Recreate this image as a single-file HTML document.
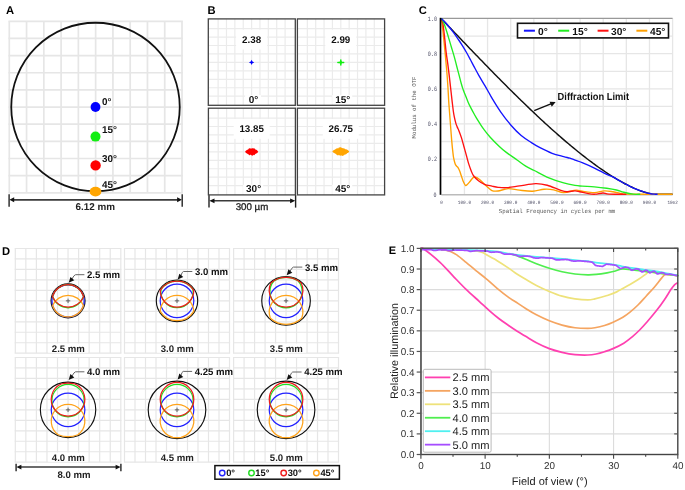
<!DOCTYPE html>
<html><head><meta charset="utf-8"><title>Figure</title>
<style>html,body{margin:0;padding:0;background:#fff;}body{width:685px;height:490px;overflow:hidden;font-family:"Liberation Sans",sans-serif;}svg{display:block;will-change:transform;}</style>
</head><body>
<svg width="685" height="490" viewBox="0 0 685 490" text-rendering="geometricPrecision">
<rect width="685" height="490" fill="#fff"/>
<text x="6" y="13.8" font-size="11.2" font-weight="bold" text-anchor="start" fill="#000" font-family="'Liberation Sans', sans-serif" >A</text>
<line x1="9.3" y1="21.3" x2="9.3" y2="192.8" stroke="#e6e6e6" stroke-width="1.7" />
<line x1="8.45" y1="21.3" x2="182.85" y2="21.3" stroke="#e6e6e6" stroke-width="1.7" />
<line x1="26.57" y1="21.3" x2="26.57" y2="192.8" stroke="#e6e6e6" stroke-width="1.7" />
<line x1="8.45" y1="38.45" x2="182.85" y2="38.45" stroke="#e6e6e6" stroke-width="1.7" />
<line x1="43.84" y1="21.3" x2="43.84" y2="192.8" stroke="#e6e6e6" stroke-width="1.7" />
<line x1="8.45" y1="55.6" x2="182.85" y2="55.6" stroke="#e6e6e6" stroke-width="1.7" />
<line x1="61.11" y1="21.3" x2="61.11" y2="192.8" stroke="#e6e6e6" stroke-width="1.7" />
<line x1="8.45" y1="72.75" x2="182.85" y2="72.75" stroke="#e6e6e6" stroke-width="1.7" />
<line x1="78.38" y1="21.3" x2="78.38" y2="192.8" stroke="#e6e6e6" stroke-width="1.7" />
<line x1="8.45" y1="89.9" x2="182.85" y2="89.9" stroke="#e6e6e6" stroke-width="1.7" />
<line x1="95.65" y1="21.3" x2="95.65" y2="192.8" stroke="#e6e6e6" stroke-width="1.7" />
<line x1="8.45" y1="107.05" x2="182.85" y2="107.05" stroke="#e6e6e6" stroke-width="1.7" />
<line x1="112.92" y1="21.3" x2="112.92" y2="192.8" stroke="#e6e6e6" stroke-width="1.7" />
<line x1="8.45" y1="124.2" x2="182.85" y2="124.2" stroke="#e6e6e6" stroke-width="1.7" />
<line x1="130.19" y1="21.3" x2="130.19" y2="192.8" stroke="#e6e6e6" stroke-width="1.7" />
<line x1="8.45" y1="141.35" x2="182.85" y2="141.35" stroke="#e6e6e6" stroke-width="1.7" />
<line x1="147.46" y1="21.3" x2="147.46" y2="192.8" stroke="#e6e6e6" stroke-width="1.7" />
<line x1="8.45" y1="158.5" x2="182.85" y2="158.5" stroke="#e6e6e6" stroke-width="1.7" />
<line x1="164.73" y1="21.3" x2="164.73" y2="192.8" stroke="#e6e6e6" stroke-width="1.7" />
<line x1="8.45" y1="175.65" x2="182.85" y2="175.65" stroke="#e6e6e6" stroke-width="1.7" />
<line x1="182" y1="21.3" x2="182" y2="192.8" stroke="#e6e6e6" stroke-width="1.7" />
<line x1="8.45" y1="192.8" x2="182.85" y2="192.8" stroke="#e6e6e6" stroke-width="1.7" />
<circle cx="95.5" cy="107.0" r="84.25" fill="none" stroke="#111" stroke-width="1.8"/>
<circle cx="95.5" cy="107" r="4.9" fill="#0000ff"/>
<circle cx="95.5" cy="136.6" r="5" fill="#11ee11"/>
<circle cx="95.6" cy="165.4" r="5.2" fill="#ff0000"/>
<ellipse cx="95.5" cy="191.6" rx="5.9" ry="4.9" fill="#ffa500"/>
<text x="102" y="104.8" font-size="9.9" font-weight="bold" text-anchor="start" fill="#111" font-family="'Liberation Sans', sans-serif" >0°</text>
<text x="102" y="133.4" font-size="9.9" font-weight="bold" text-anchor="start" fill="#111" font-family="'Liberation Sans', sans-serif" >15°</text>
<text x="102" y="162" font-size="9.9" font-weight="bold" text-anchor="start" fill="#111" font-family="'Liberation Sans', sans-serif" >30°</text>
<text x="102" y="188.4" font-size="9.9" font-weight="bold" text-anchor="start" fill="#111" font-family="'Liberation Sans', sans-serif" >45°</text>
<line x1="13.4" y1="199.8" x2="177.9" y2="199.8" stroke="#3a3a3a" stroke-width="1.7" />
<path d="M9.4 199.8 L14.2 197.3 L14.2 202.3Z" fill="#111"/>
<path d="M181.9 199.8 L177.1 197.3 L177.1 202.3Z" fill="#111"/>
<line x1="9.1" y1="194.2" x2="9.1" y2="206.8" stroke="#222" stroke-width="1.4" />
<line x1="182.2" y1="194.2" x2="182.2" y2="206.8" stroke="#222" stroke-width="1.4" />
<text x="95.3" y="210" font-size="9.9" font-weight="bold" text-anchor="middle" fill="#222" font-family="'Liberation Sans', sans-serif" >6.12 mm</text>
<text x="207.4" y="13.5" font-size="11.2" font-weight="bold" text-anchor="start" fill="#000" font-family="'Liberation Sans', sans-serif" >B</text>
<line x1="218.12" y1="18.9" x2="218.12" y2="105.3" stroke="#ebebeb" stroke-width="1.2" />
<line x1="208.3" y1="28.6" x2="295.3" y2="28.6" stroke="#ebebeb" stroke-width="1.2" />
<line x1="226.49" y1="18.9" x2="226.49" y2="105.3" stroke="#ebebeb" stroke-width="1.2" />
<line x1="208.3" y1="37.05" x2="295.3" y2="37.05" stroke="#ebebeb" stroke-width="1.2" />
<line x1="234.86" y1="18.9" x2="234.86" y2="105.3" stroke="#ebebeb" stroke-width="1.2" />
<line x1="208.3" y1="45.5" x2="295.3" y2="45.5" stroke="#ebebeb" stroke-width="1.2" />
<line x1="243.23" y1="18.9" x2="243.23" y2="105.3" stroke="#ebebeb" stroke-width="1.2" />
<line x1="208.3" y1="53.95" x2="295.3" y2="53.95" stroke="#ebebeb" stroke-width="1.2" />
<line x1="251.6" y1="18.9" x2="251.6" y2="105.3" stroke="#ebebeb" stroke-width="1.2" />
<line x1="208.3" y1="62.4" x2="295.3" y2="62.4" stroke="#ebebeb" stroke-width="1.2" />
<line x1="259.97" y1="18.9" x2="259.97" y2="105.3" stroke="#ebebeb" stroke-width="1.2" />
<line x1="208.3" y1="70.85" x2="295.3" y2="70.85" stroke="#ebebeb" stroke-width="1.2" />
<line x1="268.34" y1="18.9" x2="268.34" y2="105.3" stroke="#ebebeb" stroke-width="1.2" />
<line x1="208.3" y1="79.3" x2="295.3" y2="79.3" stroke="#ebebeb" stroke-width="1.2" />
<line x1="276.71" y1="18.9" x2="276.71" y2="105.3" stroke="#ebebeb" stroke-width="1.2" />
<line x1="208.3" y1="87.75" x2="295.3" y2="87.75" stroke="#ebebeb" stroke-width="1.2" />
<line x1="285.08" y1="18.9" x2="285.08" y2="105.3" stroke="#ebebeb" stroke-width="1.2" />
<line x1="208.3" y1="96.2" x2="295.3" y2="96.2" stroke="#ebebeb" stroke-width="1.2" />
<rect x="236.1" y="29.7" width="31" height="19.8" fill="#fff"/>
<rect x="245.1" y="95.1" width="16" height="9.5" fill="#fff"/>
<text x="251.6" y="43" font-size="9.8" font-weight="bold" text-anchor="middle" fill="#111" font-family="'Liberation Sans', sans-serif" >2.38</text>
<text x="253.5" y="102.8" font-size="10" font-weight="bold" text-anchor="middle" fill="#111" font-family="'Liberation Sans', sans-serif" >0°</text>
<rect x="208.3" y="18.9" width="87" height="86.4" fill="none" stroke="#444" stroke-width="1.3"/>
<path d="M248.9 62.4 Q251.25 62.05 251.6 59.7 Q251.95 62.05 254.3 62.4 Q251.95 62.75 251.6 65.1 Q251.25 62.75 248.9 62.4Z" fill="#0000ff"/>
<line x1="307.32" y1="18.9" x2="307.32" y2="105.3" stroke="#ebebeb" stroke-width="1.2" />
<line x1="297.4" y1="28.6" x2="384.6" y2="28.6" stroke="#ebebeb" stroke-width="1.2" />
<line x1="315.69" y1="18.9" x2="315.69" y2="105.3" stroke="#ebebeb" stroke-width="1.2" />
<line x1="297.4" y1="37.05" x2="384.6" y2="37.05" stroke="#ebebeb" stroke-width="1.2" />
<line x1="324.06" y1="18.9" x2="324.06" y2="105.3" stroke="#ebebeb" stroke-width="1.2" />
<line x1="297.4" y1="45.5" x2="384.6" y2="45.5" stroke="#ebebeb" stroke-width="1.2" />
<line x1="332.43" y1="18.9" x2="332.43" y2="105.3" stroke="#ebebeb" stroke-width="1.2" />
<line x1="297.4" y1="53.95" x2="384.6" y2="53.95" stroke="#ebebeb" stroke-width="1.2" />
<line x1="340.8" y1="18.9" x2="340.8" y2="105.3" stroke="#ebebeb" stroke-width="1.2" />
<line x1="297.4" y1="62.4" x2="384.6" y2="62.4" stroke="#ebebeb" stroke-width="1.2" />
<line x1="349.17" y1="18.9" x2="349.17" y2="105.3" stroke="#ebebeb" stroke-width="1.2" />
<line x1="297.4" y1="70.85" x2="384.6" y2="70.85" stroke="#ebebeb" stroke-width="1.2" />
<line x1="357.54" y1="18.9" x2="357.54" y2="105.3" stroke="#ebebeb" stroke-width="1.2" />
<line x1="297.4" y1="79.3" x2="384.6" y2="79.3" stroke="#ebebeb" stroke-width="1.2" />
<line x1="365.91" y1="18.9" x2="365.91" y2="105.3" stroke="#ebebeb" stroke-width="1.2" />
<line x1="297.4" y1="87.75" x2="384.6" y2="87.75" stroke="#ebebeb" stroke-width="1.2" />
<line x1="374.28" y1="18.9" x2="374.28" y2="105.3" stroke="#ebebeb" stroke-width="1.2" />
<line x1="297.4" y1="96.2" x2="384.6" y2="96.2" stroke="#ebebeb" stroke-width="1.2" />
<rect x="325.3" y="29.7" width="31" height="19.8" fill="#fff"/>
<rect x="332.3" y="95.1" width="20" height="9.5" fill="#fff"/>
<text x="340.8" y="43" font-size="9.8" font-weight="bold" text-anchor="middle" fill="#111" font-family="'Liberation Sans', sans-serif" >2.99</text>
<text x="342.7" y="102.8" font-size="10" font-weight="bold" text-anchor="middle" fill="#111" font-family="'Liberation Sans', sans-serif" >15°</text>
<rect x="297.4" y="18.9" width="87.2" height="86.4" fill="none" stroke="#444" stroke-width="1.3"/>
<g stroke="#11ee11" stroke-linecap="round" stroke-width="1.5"><line x1="337.9" y1="62.4" x2="343.7" y2="62.4"/><line x1="340.8" y1="60" x2="340.8" y2="65"/></g><circle cx="340.8" cy="62.4" r="1.3" fill="#11ee11"/>
<line x1="218.22" y1="108.2" x2="218.22" y2="194.9" stroke="#ebebeb" stroke-width="1.2" />
<line x1="208.4" y1="118.05" x2="295.4" y2="118.05" stroke="#ebebeb" stroke-width="1.2" />
<line x1="226.59" y1="108.2" x2="226.59" y2="194.9" stroke="#ebebeb" stroke-width="1.2" />
<line x1="208.4" y1="126.5" x2="295.4" y2="126.5" stroke="#ebebeb" stroke-width="1.2" />
<line x1="234.96" y1="108.2" x2="234.96" y2="194.9" stroke="#ebebeb" stroke-width="1.2" />
<line x1="208.4" y1="134.95" x2="295.4" y2="134.95" stroke="#ebebeb" stroke-width="1.2" />
<line x1="243.33" y1="108.2" x2="243.33" y2="194.9" stroke="#ebebeb" stroke-width="1.2" />
<line x1="208.4" y1="143.4" x2="295.4" y2="143.4" stroke="#ebebeb" stroke-width="1.2" />
<line x1="251.7" y1="108.2" x2="251.7" y2="194.9" stroke="#ebebeb" stroke-width="1.2" />
<line x1="208.4" y1="151.85" x2="295.4" y2="151.85" stroke="#ebebeb" stroke-width="1.2" />
<line x1="260.07" y1="108.2" x2="260.07" y2="194.9" stroke="#ebebeb" stroke-width="1.2" />
<line x1="208.4" y1="160.3" x2="295.4" y2="160.3" stroke="#ebebeb" stroke-width="1.2" />
<line x1="268.44" y1="108.2" x2="268.44" y2="194.9" stroke="#ebebeb" stroke-width="1.2" />
<line x1="208.4" y1="168.75" x2="295.4" y2="168.75" stroke="#ebebeb" stroke-width="1.2" />
<line x1="276.81" y1="108.2" x2="276.81" y2="194.9" stroke="#ebebeb" stroke-width="1.2" />
<line x1="208.4" y1="177.2" x2="295.4" y2="177.2" stroke="#ebebeb" stroke-width="1.2" />
<line x1="285.18" y1="108.2" x2="285.18" y2="194.9" stroke="#ebebeb" stroke-width="1.2" />
<line x1="208.4" y1="185.65" x2="295.4" y2="185.65" stroke="#ebebeb" stroke-width="1.2" />
<rect x="233.7" y="119" width="36" height="19.8" fill="#fff"/>
<rect x="243.2" y="184.7" width="20" height="9.5" fill="#fff"/>
<text x="251.7" y="132.3" font-size="9.8" font-weight="bold" text-anchor="middle" fill="#111" font-family="'Liberation Sans', sans-serif" >13.85</text>
<text x="253.6" y="192.4" font-size="10" font-weight="bold" text-anchor="middle" fill="#111" font-family="'Liberation Sans', sans-serif" >30°</text>
<rect x="208.4" y="108.2" width="87" height="86.7" fill="none" stroke="#444" stroke-width="1.3"/>
<path d="M245.1 151.75 L245.61 151.03 L246.12 150.62 L246.62 150.35 L247.13 149.75 L247.64 149.78 L248.15 149.52 L248.65 148.76 L249.16 148.24 L249.67 148.34 L250.18 148.69 L250.68 148.16 L251.19 148.45 L251.7 148.6 L252.21 148.17 L252.72 148.17 L253.22 148.32 L253.73 148.53 L254.24 148.22 L254.75 148.63 L255.25 149.34 L255.76 149.64 L256.27 149.67 L256.78 150.04 L257.28 150.47 L257.79 151.21 L258.3 151.75 L258.3 151.75 L257.79 152.33 L257.28 152.99 L256.78 153.24 L256.27 153.61 L255.76 153.71 L255.25 154.09 L254.75 154.76 L254.24 155.28 L253.73 154.79 L253.22 155.35 L252.72 155.46 L252.21 155.78 L251.7 155.39 L251.19 155.1 L250.68 154.82 L250.18 154.66 L249.67 155.13 L249.16 155.25 L248.65 154.18 L248.15 154.55 L247.64 153.87 L247.13 153.85 L246.62 153.3 L246.12 152.9 L245.61 152.38 L245.1 151.75Z" fill="#ff0000"/>
<line x1="307.32" y1="108.2" x2="307.32" y2="194.9" stroke="#ebebeb" stroke-width="1.2" />
<line x1="297.4" y1="118.05" x2="384.6" y2="118.05" stroke="#ebebeb" stroke-width="1.2" />
<line x1="315.69" y1="108.2" x2="315.69" y2="194.9" stroke="#ebebeb" stroke-width="1.2" />
<line x1="297.4" y1="126.5" x2="384.6" y2="126.5" stroke="#ebebeb" stroke-width="1.2" />
<line x1="324.06" y1="108.2" x2="324.06" y2="194.9" stroke="#ebebeb" stroke-width="1.2" />
<line x1="297.4" y1="134.95" x2="384.6" y2="134.95" stroke="#ebebeb" stroke-width="1.2" />
<line x1="332.43" y1="108.2" x2="332.43" y2="194.9" stroke="#ebebeb" stroke-width="1.2" />
<line x1="297.4" y1="143.4" x2="384.6" y2="143.4" stroke="#ebebeb" stroke-width="1.2" />
<line x1="340.8" y1="108.2" x2="340.8" y2="194.9" stroke="#ebebeb" stroke-width="1.2" />
<line x1="297.4" y1="151.85" x2="384.6" y2="151.85" stroke="#ebebeb" stroke-width="1.2" />
<line x1="349.17" y1="108.2" x2="349.17" y2="194.9" stroke="#ebebeb" stroke-width="1.2" />
<line x1="297.4" y1="160.3" x2="384.6" y2="160.3" stroke="#ebebeb" stroke-width="1.2" />
<line x1="357.54" y1="108.2" x2="357.54" y2="194.9" stroke="#ebebeb" stroke-width="1.2" />
<line x1="297.4" y1="168.75" x2="384.6" y2="168.75" stroke="#ebebeb" stroke-width="1.2" />
<line x1="365.91" y1="108.2" x2="365.91" y2="194.9" stroke="#ebebeb" stroke-width="1.2" />
<line x1="297.4" y1="177.2" x2="384.6" y2="177.2" stroke="#ebebeb" stroke-width="1.2" />
<line x1="374.28" y1="108.2" x2="374.28" y2="194.9" stroke="#ebebeb" stroke-width="1.2" />
<line x1="297.4" y1="185.65" x2="384.6" y2="185.65" stroke="#ebebeb" stroke-width="1.2" />
<rect x="322.8" y="119" width="36" height="19.8" fill="#fff"/>
<rect x="332.3" y="184.7" width="20" height="9.5" fill="#fff"/>
<text x="340.8" y="132.3" font-size="9.8" font-weight="bold" text-anchor="middle" fill="#111" font-family="'Liberation Sans', sans-serif" >26.75</text>
<text x="342.7" y="192.4" font-size="10" font-weight="bold" text-anchor="middle" fill="#111" font-family="'Liberation Sans', sans-serif" >45°</text>
<rect x="297.4" y="108.2" width="87.2" height="86.7" fill="none" stroke="#444" stroke-width="1.3"/>
<path d="M332.3 151.55 L332.95 150.76 L333.61 150.24 L334.26 149.8 L334.92 149.78 L335.57 148.93 L336.22 148.79 L336.88 148.18 L337.53 148.35 L338.18 148.51 L338.84 147.43 L339.49 147.47 L340.15 147.06 L340.8 147.52 L341.45 147.45 L342.11 148.21 L342.76 147.88 L343.42 148.42 L344.07 147.93 L344.72 148.96 L345.38 149.17 L346.03 149.22 L346.68 149.56 L347.34 149.69 L347.99 150.32 L348.65 150.85 L349.3 151.55 L349.3 151.55 L348.65 152.21 L347.99 152.93 L347.34 153.08 L346.68 153.8 L346.03 154.33 L345.38 154.53 L344.72 154.48 L344.07 155.28 L343.42 155.41 L342.76 155.81 L342.11 155.91 L341.45 155.25 L340.8 156 L340.15 155.13 L339.49 155.46 L338.84 154.85 L338.18 155.41 L337.53 155.36 L336.88 155.02 L336.22 154.15 L335.57 153.8 L334.92 153.55 L334.26 153.02 L333.61 152.84 L332.95 152.19 L332.3 151.55Z" fill="#ffa500"/>
<line x1="213.7" y1="200.8" x2="290.9" y2="200.8" stroke="#3a3a3a" stroke-width="1.5" />
<path d="M209.3 200.8 L214.5 198.4 L214.5 203.2Z" fill="#111"/>
<path d="M295.3 200.8 L290.1 198.4 L290.1 203.2Z" fill="#111"/>
<line x1="209" y1="195.2" x2="209" y2="207.6" stroke="#222" stroke-width="1.4" />
<line x1="295.6" y1="195.2" x2="295.6" y2="207.6" stroke="#222" stroke-width="1.4" />
<text x="252" y="210.2" font-size="9.7" font-weight="normal" text-anchor="middle" fill="#222" font-family="'Liberation Sans', sans-serif" stroke="#222" stroke-width="0.3">300 µm</text>
<text x="418.8" y="13.5" font-size="11.2" font-weight="bold" text-anchor="start" fill="#000" font-family="'Liberation Sans', sans-serif" >C</text>
<line x1="464.43" y1="18.3" x2="464.43" y2="194.2" stroke="#e6e6e6" stroke-width="1.3" />
<line x1="487.56" y1="18.3" x2="487.56" y2="194.2" stroke="#e6e6e6" stroke-width="1.3" />
<line x1="510.69" y1="18.3" x2="510.69" y2="194.2" stroke="#e6e6e6" stroke-width="1.3" />
<line x1="533.82" y1="18.3" x2="533.82" y2="194.2" stroke="#e6e6e6" stroke-width="1.3" />
<line x1="556.95" y1="18.3" x2="556.95" y2="194.2" stroke="#e6e6e6" stroke-width="1.3" />
<line x1="580.08" y1="18.3" x2="580.08" y2="194.2" stroke="#e6e6e6" stroke-width="1.3" />
<line x1="603.21" y1="18.3" x2="603.21" y2="194.2" stroke="#e6e6e6" stroke-width="1.3" />
<line x1="626.34" y1="18.3" x2="626.34" y2="194.2" stroke="#e6e6e6" stroke-width="1.3" />
<line x1="649.47" y1="18.3" x2="649.47" y2="194.2" stroke="#e6e6e6" stroke-width="1.3" />
<line x1="672.6" y1="18.3" x2="672.6" y2="194.2" stroke="#e6e6e6" stroke-width="1.3" />
<line x1="441.3" y1="176.64" x2="672.6" y2="176.64" stroke="#e6e6e6" stroke-width="1.3" />
<line x1="441.3" y1="159.08" x2="672.6" y2="159.08" stroke="#e6e6e6" stroke-width="1.3" />
<line x1="441.3" y1="141.52" x2="672.6" y2="141.52" stroke="#e6e6e6" stroke-width="1.3" />
<line x1="441.3" y1="123.96" x2="672.6" y2="123.96" stroke="#e6e6e6" stroke-width="1.3" />
<line x1="441.3" y1="106.4" x2="672.6" y2="106.4" stroke="#e6e6e6" stroke-width="1.3" />
<line x1="441.3" y1="88.84" x2="672.6" y2="88.84" stroke="#e6e6e6" stroke-width="1.3" />
<line x1="441.3" y1="71.28" x2="672.6" y2="71.28" stroke="#e6e6e6" stroke-width="1.3" />
<line x1="441.3" y1="53.72" x2="672.6" y2="53.72" stroke="#e6e6e6" stroke-width="1.3" />
<line x1="441.3" y1="36.16" x2="672.6" y2="36.16" stroke="#e6e6e6" stroke-width="1.3" />
<line x1="441.3" y1="18.4" x2="672.6" y2="18.4" stroke="#999" stroke-width="1.1" />
<line x1="441.4" y1="194.8" x2="672.6" y2="194.8" stroke="#bbb" stroke-width="1.5" />
<path d="M441.3 18.6 C441.69 19.01 442.84 20.22 443.61 21.03 C444.38 21.84 445.15 22.65 445.93 23.46 C446.7 24.27 447.47 25.08 448.24 25.89 C449.01 26.7 449.78 27.51 450.55 28.32 C451.32 29.13 452.09 29.94 452.87 30.75 C453.64 31.55 454.41 32.36 455.18 33.17 C455.95 33.98 456.72 34.79 457.49 35.6 C458.26 36.4 459.03 37.21 459.8 38.02 C460.58 38.82 461.35 39.63 462.12 40.44 C462.89 41.24 463.66 42.05 464.43 42.85 C465.2 43.66 465.97 44.46 466.74 45.27 C467.51 46.07 468.29 46.88 469.06 47.68 C469.83 48.48 470.6 49.29 471.37 50.09 C472.14 50.89 472.91 51.69 473.68 52.49 C474.45 53.29 475.22 54.09 476 54.89 C476.77 55.69 477.54 56.49 478.31 57.29 C479.08 58.08 479.85 58.88 480.62 59.68 C481.39 60.47 482.16 61.27 482.93 62.06 C483.71 62.86 484.48 63.65 485.25 64.44 C486.02 65.24 486.79 66.03 487.56 66.82 C488.33 67.61 489.1 68.4 489.87 69.19 C490.64 69.98 491.42 70.76 492.19 71.55 C492.96 72.34 493.73 73.12 494.5 73.91 C495.27 74.69 496.04 75.47 496.81 76.26 C497.58 77.04 498.35 77.82 499.12 78.6 C499.9 79.38 500.67 80.16 501.44 80.93 C502.21 81.71 502.98 82.49 503.75 83.26 C504.52 84.04 505.29 84.81 506.06 85.58 C506.84 86.35 507.61 87.12 508.38 87.89 C509.15 88.66 509.92 89.43 510.69 90.19 C511.46 90.96 512.23 91.72 513 92.49 C513.77 93.25 514.55 94.01 515.32 94.77 C516.09 95.53 516.86 96.29 517.63 97.04 C518.4 97.8 519.17 98.55 519.94 99.31 C520.71 100.06 521.48 100.81 522.25 101.56 C523.03 102.31 523.8 103.06 524.57 103.8 C525.34 104.55 526.11 105.29 526.88 106.03 C527.65 106.77 528.42 107.51 529.19 108.25 C529.96 108.99 530.74 109.72 531.51 110.46 C532.28 111.19 533.05 111.92 533.82 112.65 C534.59 113.38 535.36 114.11 536.13 114.84 C536.9 115.56 537.68 116.28 538.45 117 C539.22 117.72 539.99 118.44 540.76 119.16 C541.53 119.88 542.3 120.59 543.07 121.3 C543.84 122.01 544.61 122.72 545.38 123.43 C546.16 124.13 546.93 124.84 547.7 125.54 C548.47 126.24 549.24 126.94 550.01 127.64 C550.78 128.33 551.55 129.03 552.32 129.72 C553.1 130.41 553.87 131.1 554.64 131.78 C555.41 132.47 556.18 133.15 556.95 133.83 C557.72 134.51 558.49 135.19 559.26 135.86 C560.03 136.54 560.81 137.21 561.58 137.88 C562.35 138.55 563.12 139.21 563.89 139.87 C564.66 140.53 565.43 141.19 566.2 141.85 C566.97 142.51 567.74 143.16 568.51 143.81 C569.29 144.46 570.06 145.1 570.83 145.75 C571.6 146.39 572.37 147.03 573.14 147.66 C573.91 148.3 574.68 148.93 575.45 149.56 C576.22 150.19 577 150.81 577.77 151.44 C578.54 152.06 579.31 152.68 580.08 153.29 C580.85 153.9 581.62 154.51 582.39 155.12 C583.16 155.73 583.94 156.33 584.71 156.93 C585.48 157.53 586.25 158.12 587.02 158.71 C587.79 159.3 588.56 159.89 589.33 160.47 C590.1 161.05 590.87 161.63 591.64 162.2 C592.42 162.78 593.19 163.34 593.96 163.91 C594.73 164.47 595.5 165.03 596.27 165.59 C597.04 166.14 597.81 166.69 598.58 167.24 C599.36 167.79 600.13 168.33 600.9 168.86 C601.67 169.4 602.44 169.93 603.21 170.45 C603.98 170.98 604.75 171.5 605.52 172.02 C606.29 172.53 607.07 173.04 607.84 173.54 C608.61 174.05 609.38 174.55 610.15 175.04 C610.92 175.53 611.69 176.02 612.46 176.5 C613.23 176.98 614 177.46 614.77 177.93 C615.55 178.4 616.32 178.86 617.09 179.32 C617.86 179.77 618.63 180.22 619.4 180.67 C620.17 181.11 620.94 181.55 621.71 181.98 C622.49 182.41 623.26 182.83 624.03 183.24 C624.8 183.66 625.57 184.07 626.34 184.47 C627.11 184.87 627.88 185.26 628.65 185.64 C629.42 186.03 630.2 186.4 630.97 186.77 C631.74 187.14 632.51 187.5 633.28 187.85 C634.05 188.2 634.82 188.54 635.59 188.87 C636.36 189.2 637.13 189.52 637.9 189.83 C638.68 190.14 639.45 190.44 640.22 190.72 C640.99 191.01 641.76 191.29 642.53 191.55 C643.3 191.81 644.07 192.07 644.84 192.3 C645.62 192.54 646.39 192.76 647.16 192.96 C647.93 193.17 648.7 193.36 649.47 193.53 C650.24 193.69 651.01 193.85 651.78 193.96 C652.55 194.07 650.63 194.16 654.1 194.2 C657.57 194.24 669.52 194.2 672.6 194.2" fill="none" stroke="#111" stroke-width="1.45" stroke-linejoin="round"/>
<path d="M441.3 18.6 C441.42 19.33 441.76 21.23 441.99 22.99 C442.23 24.75 442.42 26.74 442.69 29.14 C442.96 31.54 443.21 33.47 443.61 37.39 C444.01 41.31 444.68 48.25 445.09 52.67 C445.51 57.09 445.78 60.13 446.11 63.9 C446.45 67.68 446.79 71.22 447.11 75.32 C447.42 79.42 447.74 84.19 448.01 88.49 C448.27 92.79 448.52 98.06 448.7 101.13 C448.89 104.2 448.92 104.23 449.12 106.93 C449.32 109.62 449.64 113.86 449.9 117.29 C450.17 120.71 450.39 123.58 450.69 127.47 C450.99 131.36 451.37 136.69 451.71 140.64 C452.05 144.59 452.42 148.25 452.75 151.18 C453.08 154.1 453.28 156.12 453.67 158.2 C454.07 160.28 454.63 162.33 455.11 163.65 C455.59 164.96 456.05 165.4 456.57 166.1 C457.08 166.81 457.65 166.98 458.18 167.86 C458.72 168.74 459.28 170.05 459.8 171.37 C460.32 172.69 460.73 174.06 461.31 175.76 C461.89 177.46 462.58 179.95 463.27 181.56 C463.97 183.17 464.84 184.92 465.49 185.42 C466.15 185.92 466.5 185.16 467.21 184.54 C467.91 183.93 468.86 182.79 469.75 181.73 C470.64 180.68 471.7 179.01 472.53 178.22 C473.35 177.43 473.52 176.79 474.7 176.99 C475.88 177.2 477.75 178.02 479.6 179.45 C481.45 180.88 483.75 183.75 485.8 185.6 C487.85 187.44 489.87 189.61 491.91 190.51 C493.94 191.42 495.31 191.36 498.01 191.04 C500.72 190.72 504.57 188.73 508.15 188.58 C511.72 188.43 515.39 189.72 519.48 190.16 C523.57 190.6 528.58 191.36 532.66 191.21 C536.75 191.07 540.49 189.52 544 189.28 C547.51 189.05 550.44 189.25 553.71 189.81 C556.99 190.37 559.96 192.56 563.66 192.62 C567.36 192.68 572.83 190.4 575.92 190.16 C579 189.93 579.08 190.81 582.16 191.21 C585.25 191.62 590.72 192.68 594.42 192.62 C598.12 192.56 601.28 191.01 604.37 190.86 C607.45 190.72 610.03 191.3 612.92 191.74 C615.82 192.18 619.48 193.09 621.71 193.5 C623.95 193.91 617.86 194.08 626.34 194.2 C634.82 194.32 664.89 194.2 672.6 194.2" fill="none" stroke="#ffa000" stroke-width="1.35" stroke-linejoin="round"/>
<path d="M441.3 18.6 C441.45 19.04 441.92 20.21 442.23 21.23 C442.53 22.26 442.71 22.05 443.1 24.75 C443.5 27.44 444.11 32.85 444.61 37.39 C445.11 41.93 445.59 47.63 446.11 51.96 C446.63 56.3 447.19 59.49 447.71 63.38 C448.22 67.27 448.71 71.13 449.21 75.32 C449.71 79.5 450.19 84.07 450.69 88.49 C451.19 92.91 451.76 98.09 452.19 101.83 C452.63 105.58 452.96 108.51 453.3 110.97 C453.65 113.42 453.84 114.57 454.25 116.58 C454.67 118.6 455.3 121.33 455.8 123.08 C456.3 124.84 456.74 125.86 457.26 127.12 C457.78 128.38 458.21 128.88 458.9 130.63 C459.59 132.39 460.55 134.96 461.4 137.66 C462.25 140.35 463.14 143.74 463.99 146.79 C464.84 149.83 465.74 153.11 466.51 155.92 C467.29 158.73 467.87 161.19 468.64 163.65 C469.41 166.1 470.32 168.65 471.14 170.67 C471.95 172.69 472.33 174.09 473.54 175.76 C474.76 177.43 476.61 179.24 478.45 180.68 C480.28 182.11 482.3 183.46 484.55 184.37 C486.8 185.27 489.7 185.62 491.95 186.12 C494.21 186.62 495.69 187.09 498.08 187.35 C500.47 187.61 502.73 187.94 506.3 187.7 C509.86 187.47 514.58 186.62 519.48 185.95 C524.38 185.27 531.04 183.78 535.67 183.66 C540.3 183.55 543.15 184.16 547.24 185.24 C551.32 186.33 556.91 189.08 560.19 190.16 C563.46 191.24 564.43 191.62 566.9 191.74 C569.36 191.86 572.83 190.86 574.99 190.86 C577.15 190.86 577.61 191.27 579.85 191.74 C582.08 192.21 585.86 193.26 588.41 193.67 C590.95 194.08 592.69 194.32 595.11 194.2 C597.54 194.08 600.67 192.97 602.98 192.97 C605.29 192.97 605.1 194 608.99 194.2 C612.89 194.4 623.45 194.2 626.34 194.2" fill="none" stroke="#ff1111" stroke-width="1.35" stroke-linejoin="round"/>
<path d="M441.3 18.6 C441.52 18.89 441.96 19.04 442.6 20.36 C443.23 21.67 444.16 23.84 445.09 26.5 C446.03 29.17 447.18 33 448.19 36.34 C449.21 39.67 450.18 43.1 451.2 46.52 C452.22 49.94 453.37 53.54 454.3 56.88 C455.23 60.22 455.95 63.29 456.8 66.54 C457.65 69.79 458.68 73.59 459.41 76.37 C460.14 79.15 460.63 81.17 461.19 83.22 C461.76 85.27 462.27 87.05 462.81 88.66 C463.35 90.27 463.83 91.36 464.43 92.88 C465.03 94.4 465.78 96.24 466.4 97.8 C467.01 99.35 467.51 100.75 468.13 102.19 C468.75 103.62 469.35 104.91 470.1 106.4 C470.84 107.89 471.58 109.27 472.59 111.14 C473.61 113.01 474.92 115.47 476.2 117.64 C477.49 119.8 479.01 122.17 480.3 124.14 C481.58 126.1 482.29 127.27 483.91 129.4 C485.52 131.54 487.51 134.2 489.99 136.95 C492.47 139.71 496.08 143.33 498.8 145.91 C501.52 148.49 503.25 150.07 506.3 152.41 C509.34 154.75 513.86 157.68 517.1 159.96 C520.34 162.24 522.86 164.35 525.72 166.1 C528.59 167.86 530.43 168.53 534.28 170.49 C538.14 172.45 543.96 175.79 548.85 177.87 C553.75 179.95 559.3 181.7 563.66 182.96 C568.01 184.22 571.91 184.89 574.99 185.42 C578.08 185.95 578.92 185.89 582.16 186.12 C585.4 186.36 590.33 186.47 594.42 186.82 C598.51 187.18 603.02 187.7 606.68 188.23 C610.34 188.76 613.54 189.31 616.39 189.99 C619.25 190.66 620.98 191.57 623.8 192.27 C626.61 192.97 630.54 193.88 633.28 194.2 C636.02 194.52 639.06 194.2 640.22 194.2" fill="none" stroke="#22ee22" stroke-width="1.35" stroke-linejoin="round"/>
<path d="M441.3 18.6 C442.1 19.36 444.63 21.56 446.11 23.17 C447.6 24.78 448.84 26.53 450.21 28.26 C451.57 29.98 452.93 31.65 454.3 33.53 C455.66 35.4 457.04 37.48 458.39 39.5 C459.74 41.52 461.04 43.48 462.39 45.64 C463.75 47.81 465.14 50.09 466.51 52.49 C467.88 54.89 469.33 57.64 470.61 60.04 C471.89 62.44 472.83 64.34 474.19 66.89 C475.56 69.44 477.01 72.19 478.79 75.32 C480.58 78.45 483.03 82.46 484.9 85.68 C486.77 88.9 488.69 92.35 489.99 94.63 C491.29 96.92 490.89 96.48 492.69 99.38 C494.5 102.27 497.74 107.72 500.79 112.02 C503.84 116.32 507.59 121.27 510.99 125.19 C514.39 129.11 517.79 132.65 521.19 135.55 C524.59 138.45 528.26 140.55 531.39 142.57 C534.53 144.59 536.55 145.88 540 147.67 C543.45 149.45 548.15 151.79 552.09 153.29 C556.04 154.78 560.69 155.8 563.66 156.62 C566.63 157.44 568.01 157.62 569.9 158.2 C571.79 158.79 572.95 159.4 574.99 160.13 C577.03 160.87 578.92 161.27 582.16 162.59 C585.4 163.91 590.33 166.07 594.42 168.04 C598.51 170 603.67 172.92 606.68 174.36 C609.69 175.79 610.73 175.81 612.46 176.64 C614.2 177.47 615.55 178.43 617.09 179.32 C618.63 180.21 620.17 181.12 621.71 181.98 C623.26 182.83 624.8 183.67 626.34 184.47 C627.88 185.27 629.42 186.04 630.97 186.77 C632.51 187.5 634.05 188.21 635.59 188.87 C637.13 189.52 638.68 190.15 640.22 190.72 C641.76 191.3 643.3 191.83 644.84 192.3 C646.39 192.77 647.93 193.21 649.47 193.53 C651.01 193.84 652.75 194.09 654.1 194.2 C655.45 194.31 656.99 194.2 657.57 194.2" fill="none" stroke="#1515ff" stroke-width="1.35" stroke-linejoin="round"/>
<line x1="440.5" y1="17.8" x2="440.5" y2="194.8" stroke="#000" stroke-width="1.7" />
<text x="427.8" y="21" font-size="6.6" fill="#4a4a62" font-family="'Liberation Mono', monospace" textLength="9.2" lengthAdjust="spacingAndGlyphs">1.0</text>
<text x="427.8" y="56.12" font-size="6.6" fill="#4a4a62" font-family="'Liberation Mono', monospace" textLength="9.2" lengthAdjust="spacingAndGlyphs">0.8</text>
<text x="427.8" y="91.24" font-size="6.6" fill="#4a4a62" font-family="'Liberation Mono', monospace" textLength="9.2" lengthAdjust="spacingAndGlyphs">0.6</text>
<text x="427.8" y="126.36" font-size="6.6" fill="#4a4a62" font-family="'Liberation Mono', monospace" textLength="9.2" lengthAdjust="spacingAndGlyphs">0.4</text>
<text x="427.8" y="161.48" font-size="6.6" fill="#4a4a62" font-family="'Liberation Mono', monospace" textLength="9.2" lengthAdjust="spacingAndGlyphs">0.2</text>
<text x="433.6" y="196.6" font-size="6.6" fill="#4a4a62" font-family="'Liberation Mono', monospace" textLength="3" lengthAdjust="spacingAndGlyphs">0</text>
<text x="440.2" y="204.3" font-size="5" fill="#4a4a62" font-family="'Liberation Mono', monospace" textLength="2.6" lengthAdjust="spacingAndGlyphs">0</text>
<text x="457.83" y="204.3" font-size="5" fill="#4a4a62" font-family="'Liberation Mono', monospace" textLength="13.2" lengthAdjust="spacingAndGlyphs">100.0</text>
<text x="480.96" y="204.3" font-size="5" fill="#4a4a62" font-family="'Liberation Mono', monospace" textLength="13.2" lengthAdjust="spacingAndGlyphs">200.0</text>
<text x="504.09" y="204.3" font-size="5" fill="#4a4a62" font-family="'Liberation Mono', monospace" textLength="13.2" lengthAdjust="spacingAndGlyphs">300.0</text>
<text x="527.22" y="204.3" font-size="5" fill="#4a4a62" font-family="'Liberation Mono', monospace" textLength="13.2" lengthAdjust="spacingAndGlyphs">400.0</text>
<text x="550.35" y="204.3" font-size="5" fill="#4a4a62" font-family="'Liberation Mono', monospace" textLength="13.2" lengthAdjust="spacingAndGlyphs">500.0</text>
<text x="573.48" y="204.3" font-size="5" fill="#4a4a62" font-family="'Liberation Mono', monospace" textLength="13.2" lengthAdjust="spacingAndGlyphs">600.0</text>
<text x="596.61" y="204.3" font-size="5" fill="#4a4a62" font-family="'Liberation Mono', monospace" textLength="13.2" lengthAdjust="spacingAndGlyphs">700.0</text>
<text x="619.74" y="204.3" font-size="5" fill="#4a4a62" font-family="'Liberation Mono', monospace" textLength="13.2" lengthAdjust="spacingAndGlyphs">800.0</text>
<text x="642.87" y="204.3" font-size="5" fill="#4a4a62" font-family="'Liberation Mono', monospace" textLength="13.2" lengthAdjust="spacingAndGlyphs">900.0</text>
<text x="667.4" y="204.3" font-size="5" fill="#4a4a62" font-family="'Liberation Mono', monospace" textLength="10.4" lengthAdjust="spacingAndGlyphs">10e2</text>
<text x="498.8" y="212.8" font-size="6" fill="#555" font-family="'Liberation Mono', monospace" textLength="116.5" lengthAdjust="spacingAndGlyphs">Spatial Frequency in cycles per mm</text>
<text transform="translate(415.6 107.5) rotate(-90)" x="0" y="0" text-anchor="middle" font-size="6" fill="#555" font-family="'Liberation Mono', monospace" textLength="62" lengthAdjust="spacingAndGlyphs">Modulus of the OTF</text>
<rect x="517.5" y="23.3" width="151" height="14.6" fill="#fff" stroke="#111" stroke-width="1.6"/>
<line x1="523.9" y1="30.7" x2="534.9" y2="30.7" stroke="#1515ff" stroke-width="2" />
<text x="538" y="34.5" font-size="10.2" font-weight="bold" text-anchor="start" fill="#111" font-family="'Liberation Sans', sans-serif" >0°</text>
<line x1="558.2" y1="30.7" x2="569.2" y2="30.7" stroke="#22ee22" stroke-width="2" />
<text x="572.3" y="34.5" font-size="10.2" font-weight="bold" text-anchor="start" fill="#111" font-family="'Liberation Sans', sans-serif" >15°</text>
<line x1="597.6" y1="30.7" x2="608.5" y2="30.7" stroke="#ff1111" stroke-width="2" />
<text x="611" y="34.5" font-size="10.2" font-weight="bold" text-anchor="start" fill="#111" font-family="'Liberation Sans', sans-serif" >30°</text>
<line x1="636.4" y1="30.7" x2="647.3" y2="30.7" stroke="#ffa000" stroke-width="2" />
<text x="650" y="34.5" font-size="10.2" font-weight="bold" text-anchor="start" fill="#111" font-family="'Liberation Sans', sans-serif" >45°</text>
<text x="557.6" y="100.1" font-size="10.3" font-weight="bold" text-anchor="start" fill="#111" font-family="'Liberation Sans', sans-serif" textLength="71.4" lengthAdjust="spacingAndGlyphs">Diffraction Limit</text>
<line x1="534.2" y1="110.7" x2="551.5" y2="103.7" stroke="#111" stroke-width="1.4" />
<path d="M555.6 102.1 L549.6 101.7 L551.8 106.8Z" fill="#111"/>
<text x="2" y="254.6" font-size="11.2" font-weight="bold" text-anchor="start" fill="#000" font-family="'Liberation Sans', sans-serif" >D</text>
<line x1="15.3" y1="248.5" x2="15.3" y2="353.2" stroke="#e6e6e6" stroke-width="1.2" />
<line x1="14.7" y1="248.5" x2="121.4" y2="248.5" stroke="#e6e6e6" stroke-width="1.2" />
<line x1="25.85" y1="248.5" x2="25.85" y2="353.2" stroke="#e6e6e6" stroke-width="1.2" />
<line x1="14.7" y1="258.97" x2="121.4" y2="258.97" stroke="#e6e6e6" stroke-width="1.2" />
<line x1="36.4" y1="248.5" x2="36.4" y2="353.2" stroke="#e6e6e6" stroke-width="1.2" />
<line x1="14.7" y1="269.44" x2="121.4" y2="269.44" stroke="#e6e6e6" stroke-width="1.2" />
<line x1="46.95" y1="248.5" x2="46.95" y2="353.2" stroke="#e6e6e6" stroke-width="1.2" />
<line x1="14.7" y1="279.91" x2="121.4" y2="279.91" stroke="#e6e6e6" stroke-width="1.2" />
<line x1="57.5" y1="248.5" x2="57.5" y2="353.2" stroke="#e6e6e6" stroke-width="1.2" />
<line x1="14.7" y1="290.38" x2="121.4" y2="290.38" stroke="#e6e6e6" stroke-width="1.2" />
<line x1="68.05" y1="248.5" x2="68.05" y2="353.2" stroke="#e6e6e6" stroke-width="1.2" />
<line x1="14.7" y1="300.85" x2="121.4" y2="300.85" stroke="#e6e6e6" stroke-width="1.2" />
<line x1="78.6" y1="248.5" x2="78.6" y2="353.2" stroke="#e6e6e6" stroke-width="1.2" />
<line x1="14.7" y1="311.32" x2="121.4" y2="311.32" stroke="#e6e6e6" stroke-width="1.2" />
<line x1="89.15" y1="248.5" x2="89.15" y2="353.2" stroke="#e6e6e6" stroke-width="1.2" />
<line x1="14.7" y1="321.79" x2="121.4" y2="321.79" stroke="#e6e6e6" stroke-width="1.2" />
<line x1="99.7" y1="248.5" x2="99.7" y2="353.2" stroke="#e6e6e6" stroke-width="1.2" />
<line x1="14.7" y1="332.26" x2="121.4" y2="332.26" stroke="#e6e6e6" stroke-width="1.2" />
<line x1="110.25" y1="248.5" x2="110.25" y2="353.2" stroke="#e6e6e6" stroke-width="1.2" />
<line x1="14.7" y1="342.73" x2="121.4" y2="342.73" stroke="#e6e6e6" stroke-width="1.2" />
<line x1="120.8" y1="248.5" x2="120.8" y2="353.2" stroke="#e6e6e6" stroke-width="1.2" />
<line x1="14.7" y1="353.2" x2="121.4" y2="353.2" stroke="#e6e6e6" stroke-width="1.2" />
<rect x="48.05" y="343.6" width="40" height="9" fill="#fff"/>
<text x="68.35" y="352" font-size="9.6" font-weight="bold" text-anchor="middle" fill="#222" font-family="'Liberation Sans', sans-serif" >2.5 mm</text>
<circle cx="68.05" cy="300.85" r="17" fill="none" stroke="#111" stroke-width="1.15"/>
<g fill="none" stroke-width="1.25">
<circle stroke="#2222ff" cx="68.05" cy="300.85" r="16.1"/>
<path stroke="#22dd22" d="M52.6 296.31 A16.15 16.15 0 0 0 83.5 296.31 A16.1 16.1 0 0 0 52.6 296.31Z"/>
<path stroke="#ffa31a" d="M52.63 305.48 A16.8 16.8 0 0 1 83.47 305.48 A16.1 16.1 0 0 1 52.63 305.48Z"/>
<path stroke="#ee1c1c" d="M52.51 296.64 A16.8 16.8 0 0 0 83.59 296.64 A16.1 16.1 0 0 0 52.51 296.64Z"/>
</g>
<line x1="65.85" y1="300.85" x2="70.25" y2="300.85" stroke="#555" stroke-width="0.9" />
<line x1="68.05" y1="298.65" x2="68.05" y2="303.05" stroke="#555" stroke-width="0.9" />
<path d="M84.4 274.7 L75.5 274.7 Q74.3 274.7 71.82 279.2" fill="none" stroke="#666" stroke-width="1.0"/>
<path d="M68.65 282.8 L70.4 276.88 L74.3 280.32Z" fill="#111"/>
<text x="87" y="278.1" font-size="9.6" font-weight="bold" text-anchor="start" fill="#111" font-family="'Liberation Sans', sans-serif" >2.5 mm</text>
<line x1="124.5" y1="248.5" x2="124.5" y2="353.2" stroke="#e6e6e6" stroke-width="1.2" />
<line x1="123.9" y1="248.5" x2="230.1" y2="248.5" stroke="#e6e6e6" stroke-width="1.2" />
<line x1="135" y1="248.5" x2="135" y2="353.2" stroke="#e6e6e6" stroke-width="1.2" />
<line x1="123.9" y1="258.97" x2="230.1" y2="258.97" stroke="#e6e6e6" stroke-width="1.2" />
<line x1="145.5" y1="248.5" x2="145.5" y2="353.2" stroke="#e6e6e6" stroke-width="1.2" />
<line x1="123.9" y1="269.44" x2="230.1" y2="269.44" stroke="#e6e6e6" stroke-width="1.2" />
<line x1="156" y1="248.5" x2="156" y2="353.2" stroke="#e6e6e6" stroke-width="1.2" />
<line x1="123.9" y1="279.91" x2="230.1" y2="279.91" stroke="#e6e6e6" stroke-width="1.2" />
<line x1="166.5" y1="248.5" x2="166.5" y2="353.2" stroke="#e6e6e6" stroke-width="1.2" />
<line x1="123.9" y1="290.38" x2="230.1" y2="290.38" stroke="#e6e6e6" stroke-width="1.2" />
<line x1="177" y1="248.5" x2="177" y2="353.2" stroke="#e6e6e6" stroke-width="1.2" />
<line x1="123.9" y1="300.85" x2="230.1" y2="300.85" stroke="#e6e6e6" stroke-width="1.2" />
<line x1="187.5" y1="248.5" x2="187.5" y2="353.2" stroke="#e6e6e6" stroke-width="1.2" />
<line x1="123.9" y1="311.32" x2="230.1" y2="311.32" stroke="#e6e6e6" stroke-width="1.2" />
<line x1="198" y1="248.5" x2="198" y2="353.2" stroke="#e6e6e6" stroke-width="1.2" />
<line x1="123.9" y1="321.79" x2="230.1" y2="321.79" stroke="#e6e6e6" stroke-width="1.2" />
<line x1="208.5" y1="248.5" x2="208.5" y2="353.2" stroke="#e6e6e6" stroke-width="1.2" />
<line x1="123.9" y1="332.26" x2="230.1" y2="332.26" stroke="#e6e6e6" stroke-width="1.2" />
<line x1="219" y1="248.5" x2="219" y2="353.2" stroke="#e6e6e6" stroke-width="1.2" />
<line x1="123.9" y1="342.73" x2="230.1" y2="342.73" stroke="#e6e6e6" stroke-width="1.2" />
<line x1="229.5" y1="248.5" x2="229.5" y2="353.2" stroke="#e6e6e6" stroke-width="1.2" />
<line x1="123.9" y1="353.2" x2="230.1" y2="353.2" stroke="#e6e6e6" stroke-width="1.2" />
<rect x="157" y="343.6" width="40" height="9" fill="#fff"/>
<text x="177.3" y="352" font-size="9.6" font-weight="bold" text-anchor="middle" fill="#222" font-family="'Liberation Sans', sans-serif" >3.0 mm</text>
<circle cx="177" cy="300.85" r="20.7" fill="none" stroke="#111" stroke-width="1.15"/>
<g fill="none" stroke-width="1.25">
<circle stroke="#2222ff" cx="177" cy="300.85" r="16.8"/>
<path stroke="#22dd22" d="M161.04 289.13 A16.15 16.15 0 1 0 192.96 289.13 A19.8 19.8 0 0 0 161.04 289.13Z"/>
<path stroke="#ffa31a" d="M160.22 311.36 A16.8 16.8 0 0 1 193.78 311.36 A19.8 19.8 0 0 1 160.22 311.36Z"/>
<path stroke="#ee1c1c" d="M160.2 290.37 A16.8 16.8 0 0 0 193.8 290.37 A19.8 19.8 0 0 0 160.2 290.37Z"/>
</g>
<line x1="174.8" y1="300.85" x2="179.2" y2="300.85" stroke="#555" stroke-width="0.9" />
<line x1="177" y1="298.65" x2="177" y2="303.05" stroke="#555" stroke-width="0.9" />
<path d="M192.3 271.5 L183.4 271.5 Q182.2 271.5 180.77 276" fill="none" stroke="#666" stroke-width="1.0"/>
<path d="M177.6 279.6 L179.35 273.68 L183.25 277.12Z" fill="#111"/>
<text x="194.9" y="274.9" font-size="9.6" font-weight="bold" text-anchor="start" fill="#111" font-family="'Liberation Sans', sans-serif" >3.0 mm</text>
<line x1="233.6" y1="248.5" x2="233.6" y2="353.2" stroke="#e6e6e6" stroke-width="1.2" />
<line x1="233" y1="248.5" x2="339.1" y2="248.5" stroke="#e6e6e6" stroke-width="1.2" />
<line x1="244.09" y1="248.5" x2="244.09" y2="353.2" stroke="#e6e6e6" stroke-width="1.2" />
<line x1="233" y1="258.97" x2="339.1" y2="258.97" stroke="#e6e6e6" stroke-width="1.2" />
<line x1="254.58" y1="248.5" x2="254.58" y2="353.2" stroke="#e6e6e6" stroke-width="1.2" />
<line x1="233" y1="269.44" x2="339.1" y2="269.44" stroke="#e6e6e6" stroke-width="1.2" />
<line x1="265.07" y1="248.5" x2="265.07" y2="353.2" stroke="#e6e6e6" stroke-width="1.2" />
<line x1="233" y1="279.91" x2="339.1" y2="279.91" stroke="#e6e6e6" stroke-width="1.2" />
<line x1="275.56" y1="248.5" x2="275.56" y2="353.2" stroke="#e6e6e6" stroke-width="1.2" />
<line x1="233" y1="290.38" x2="339.1" y2="290.38" stroke="#e6e6e6" stroke-width="1.2" />
<line x1="286.05" y1="248.5" x2="286.05" y2="353.2" stroke="#e6e6e6" stroke-width="1.2" />
<line x1="233" y1="300.85" x2="339.1" y2="300.85" stroke="#e6e6e6" stroke-width="1.2" />
<line x1="296.54" y1="248.5" x2="296.54" y2="353.2" stroke="#e6e6e6" stroke-width="1.2" />
<line x1="233" y1="311.32" x2="339.1" y2="311.32" stroke="#e6e6e6" stroke-width="1.2" />
<line x1="307.03" y1="248.5" x2="307.03" y2="353.2" stroke="#e6e6e6" stroke-width="1.2" />
<line x1="233" y1="321.79" x2="339.1" y2="321.79" stroke="#e6e6e6" stroke-width="1.2" />
<line x1="317.52" y1="248.5" x2="317.52" y2="353.2" stroke="#e6e6e6" stroke-width="1.2" />
<line x1="233" y1="332.26" x2="339.1" y2="332.26" stroke="#e6e6e6" stroke-width="1.2" />
<line x1="328.01" y1="248.5" x2="328.01" y2="353.2" stroke="#e6e6e6" stroke-width="1.2" />
<line x1="233" y1="342.73" x2="339.1" y2="342.73" stroke="#e6e6e6" stroke-width="1.2" />
<line x1="338.5" y1="248.5" x2="338.5" y2="353.2" stroke="#e6e6e6" stroke-width="1.2" />
<line x1="233" y1="353.2" x2="339.1" y2="353.2" stroke="#e6e6e6" stroke-width="1.2" />
<rect x="266.05" y="343.6" width="40" height="9" fill="#fff"/>
<text x="286.35" y="352" font-size="9.6" font-weight="bold" text-anchor="middle" fill="#222" font-family="'Liberation Sans', sans-serif" >3.5 mm</text>
<circle cx="286.05" cy="300.85" r="24.3" fill="none" stroke="#111" stroke-width="1.15"/>
<g fill="none" stroke-width="1.25">
<circle stroke="#2222ff" cx="286.05" cy="300.85" r="16.8"/>
<path stroke="#22dd22" d="M274.11 280.73 A16.15 16.15 0 1 0 297.99 280.73 A23.4 23.4 0 0 0 274.11 280.73Z"/>
<path stroke="#ffa31a" d="M270.39 318.24 A16.8 16.8 0 1 1 301.71 318.24 A23.4 23.4 0 0 1 270.39 318.24Z"/>
<path stroke="#ee1c1c" d="M270.88 283.03 A16.8 16.8 0 1 0 301.22 283.03 A23.4 23.4 0 0 0 270.88 283.03Z"/>
</g>
<line x1="283.85" y1="300.85" x2="288.25" y2="300.85" stroke="#555" stroke-width="0.9" />
<line x1="286.05" y1="298.65" x2="286.05" y2="303.05" stroke="#555" stroke-width="0.9" />
<path d="M302.3 267.1 L293.4 267.1 Q292.2 267.1 289.82 271.6" fill="none" stroke="#666" stroke-width="1.0"/>
<path d="M286.65 275.2 L288.4 269.28 L292.3 272.72Z" fill="#111"/>
<text x="304.9" y="270.5" font-size="9.6" font-weight="bold" text-anchor="start" fill="#111" font-family="'Liberation Sans', sans-serif" >3.5 mm</text>
<line x1="15.3" y1="357.5" x2="15.3" y2="462.2" stroke="#e6e6e6" stroke-width="1.2" />
<line x1="14.7" y1="357.5" x2="121.4" y2="357.5" stroke="#e6e6e6" stroke-width="1.2" />
<line x1="25.85" y1="357.5" x2="25.85" y2="462.2" stroke="#e6e6e6" stroke-width="1.2" />
<line x1="14.7" y1="367.97" x2="121.4" y2="367.97" stroke="#e6e6e6" stroke-width="1.2" />
<line x1="36.4" y1="357.5" x2="36.4" y2="462.2" stroke="#e6e6e6" stroke-width="1.2" />
<line x1="14.7" y1="378.44" x2="121.4" y2="378.44" stroke="#e6e6e6" stroke-width="1.2" />
<line x1="46.95" y1="357.5" x2="46.95" y2="462.2" stroke="#e6e6e6" stroke-width="1.2" />
<line x1="14.7" y1="388.91" x2="121.4" y2="388.91" stroke="#e6e6e6" stroke-width="1.2" />
<line x1="57.5" y1="357.5" x2="57.5" y2="462.2" stroke="#e6e6e6" stroke-width="1.2" />
<line x1="14.7" y1="399.38" x2="121.4" y2="399.38" stroke="#e6e6e6" stroke-width="1.2" />
<line x1="68.05" y1="357.5" x2="68.05" y2="462.2" stroke="#e6e6e6" stroke-width="1.2" />
<line x1="14.7" y1="409.85" x2="121.4" y2="409.85" stroke="#e6e6e6" stroke-width="1.2" />
<line x1="78.6" y1="357.5" x2="78.6" y2="462.2" stroke="#e6e6e6" stroke-width="1.2" />
<line x1="14.7" y1="420.32" x2="121.4" y2="420.32" stroke="#e6e6e6" stroke-width="1.2" />
<line x1="89.15" y1="357.5" x2="89.15" y2="462.2" stroke="#e6e6e6" stroke-width="1.2" />
<line x1="14.7" y1="430.79" x2="121.4" y2="430.79" stroke="#e6e6e6" stroke-width="1.2" />
<line x1="99.7" y1="357.5" x2="99.7" y2="462.2" stroke="#e6e6e6" stroke-width="1.2" />
<line x1="14.7" y1="441.26" x2="121.4" y2="441.26" stroke="#e6e6e6" stroke-width="1.2" />
<line x1="110.25" y1="357.5" x2="110.25" y2="462.2" stroke="#e6e6e6" stroke-width="1.2" />
<line x1="14.7" y1="451.73" x2="121.4" y2="451.73" stroke="#e6e6e6" stroke-width="1.2" />
<line x1="120.8" y1="357.5" x2="120.8" y2="462.2" stroke="#e6e6e6" stroke-width="1.2" />
<line x1="14.7" y1="462.2" x2="121.4" y2="462.2" stroke="#e6e6e6" stroke-width="1.2" />
<rect x="48.05" y="452.6" width="40" height="9" fill="#fff"/>
<text x="68.35" y="461" font-size="9.6" font-weight="bold" text-anchor="middle" fill="#222" font-family="'Liberation Sans', sans-serif" >4.0 mm</text>
<circle cx="68.05" cy="409.85" r="27.7" fill="none" stroke="#111" stroke-width="1.15"/>
<g fill="none" stroke-width="1.25">
<circle stroke="#2222ff" cx="68.05" cy="409.85" r="16.8"/>
<circle stroke="#22dd22" cx="68.05" cy="400.6" r="16.15"/>
<path stroke="#ffa31a" d="M58.25 434.79 A16.8 16.8 0 1 1 77.85 434.79 A26.8 26.8 0 0 1 58.25 434.79Z"/>
<path stroke="#ee1c1c" d="M61.04 383.98 A16.8 16.8 0 1 0 75.06 383.98 A26.8 26.8 0 0 0 61.04 383.98Z"/>
</g>
<line x1="65.85" y1="409.85" x2="70.25" y2="409.85" stroke="#555" stroke-width="0.9" />
<line x1="68.05" y1="407.65" x2="68.05" y2="412.05" stroke="#555" stroke-width="0.9" />
<path d="M84.4 371.8 L75.5 371.8 Q74.3 371.8 71.82 376.3" fill="none" stroke="#666" stroke-width="1.0"/>
<path d="M68.65 379.9 L70.4 373.98 L74.3 377.42Z" fill="#111"/>
<text x="87" y="375.2" font-size="9.6" font-weight="bold" text-anchor="start" fill="#111" font-family="'Liberation Sans', sans-serif" >4.0 mm</text>
<line x1="124.5" y1="357.5" x2="124.5" y2="462.2" stroke="#e6e6e6" stroke-width="1.2" />
<line x1="123.9" y1="357.5" x2="230.1" y2="357.5" stroke="#e6e6e6" stroke-width="1.2" />
<line x1="135" y1="357.5" x2="135" y2="462.2" stroke="#e6e6e6" stroke-width="1.2" />
<line x1="123.9" y1="367.97" x2="230.1" y2="367.97" stroke="#e6e6e6" stroke-width="1.2" />
<line x1="145.5" y1="357.5" x2="145.5" y2="462.2" stroke="#e6e6e6" stroke-width="1.2" />
<line x1="123.9" y1="378.44" x2="230.1" y2="378.44" stroke="#e6e6e6" stroke-width="1.2" />
<line x1="156" y1="357.5" x2="156" y2="462.2" stroke="#e6e6e6" stroke-width="1.2" />
<line x1="123.9" y1="388.91" x2="230.1" y2="388.91" stroke="#e6e6e6" stroke-width="1.2" />
<line x1="166.5" y1="357.5" x2="166.5" y2="462.2" stroke="#e6e6e6" stroke-width="1.2" />
<line x1="123.9" y1="399.38" x2="230.1" y2="399.38" stroke="#e6e6e6" stroke-width="1.2" />
<line x1="177" y1="357.5" x2="177" y2="462.2" stroke="#e6e6e6" stroke-width="1.2" />
<line x1="123.9" y1="409.85" x2="230.1" y2="409.85" stroke="#e6e6e6" stroke-width="1.2" />
<line x1="187.5" y1="357.5" x2="187.5" y2="462.2" stroke="#e6e6e6" stroke-width="1.2" />
<line x1="123.9" y1="420.32" x2="230.1" y2="420.32" stroke="#e6e6e6" stroke-width="1.2" />
<line x1="198" y1="357.5" x2="198" y2="462.2" stroke="#e6e6e6" stroke-width="1.2" />
<line x1="123.9" y1="430.79" x2="230.1" y2="430.79" stroke="#e6e6e6" stroke-width="1.2" />
<line x1="208.5" y1="357.5" x2="208.5" y2="462.2" stroke="#e6e6e6" stroke-width="1.2" />
<line x1="123.9" y1="441.26" x2="230.1" y2="441.26" stroke="#e6e6e6" stroke-width="1.2" />
<line x1="219" y1="357.5" x2="219" y2="462.2" stroke="#e6e6e6" stroke-width="1.2" />
<line x1="123.9" y1="451.73" x2="230.1" y2="451.73" stroke="#e6e6e6" stroke-width="1.2" />
<line x1="229.5" y1="357.5" x2="229.5" y2="462.2" stroke="#e6e6e6" stroke-width="1.2" />
<line x1="123.9" y1="462.2" x2="230.1" y2="462.2" stroke="#e6e6e6" stroke-width="1.2" />
<rect x="157" y="452.6" width="40" height="9" fill="#fff"/>
<text x="177.3" y="461" font-size="9.6" font-weight="bold" text-anchor="middle" fill="#222" font-family="'Liberation Sans', sans-serif" >4.5 mm</text>
<circle cx="177" cy="409.85" r="28.8" fill="none" stroke="#111" stroke-width="1.15"/>
<g fill="none" stroke-width="1.25">
<circle stroke="#2222ff" cx="177" cy="409.85" r="16.8"/>
<circle stroke="#22dd22" cx="177" cy="400.6" r="16.15"/>
<path stroke="#ffa31a" d="M172.95 437.45 A16.8 16.8 0 1 1 181.05 437.45 A27.9 27.9 0 0 1 172.95 437.45Z"/>
<circle stroke="#ee1c1c" cx="177" cy="399.25" r="16.8"/>
</g>
<line x1="174.8" y1="409.85" x2="179.2" y2="409.85" stroke="#555" stroke-width="0.9" />
<line x1="177" y1="407.65" x2="177" y2="412.05" stroke="#555" stroke-width="0.9" />
<path d="M192.1 371.4 L183.2 371.4 Q182 371.4 180.77 375.9" fill="none" stroke="#666" stroke-width="1.0"/>
<path d="M177.6 379.5 L179.35 373.58 L183.25 377.02Z" fill="#111"/>
<text x="194.7" y="374.8" font-size="9.6" font-weight="bold" text-anchor="start" fill="#111" font-family="'Liberation Sans', sans-serif" >4.25 mm</text>
<line x1="233.6" y1="357.5" x2="233.6" y2="462.2" stroke="#e6e6e6" stroke-width="1.2" />
<line x1="233" y1="357.5" x2="339.1" y2="357.5" stroke="#e6e6e6" stroke-width="1.2" />
<line x1="244.09" y1="357.5" x2="244.09" y2="462.2" stroke="#e6e6e6" stroke-width="1.2" />
<line x1="233" y1="367.97" x2="339.1" y2="367.97" stroke="#e6e6e6" stroke-width="1.2" />
<line x1="254.58" y1="357.5" x2="254.58" y2="462.2" stroke="#e6e6e6" stroke-width="1.2" />
<line x1="233" y1="378.44" x2="339.1" y2="378.44" stroke="#e6e6e6" stroke-width="1.2" />
<line x1="265.07" y1="357.5" x2="265.07" y2="462.2" stroke="#e6e6e6" stroke-width="1.2" />
<line x1="233" y1="388.91" x2="339.1" y2="388.91" stroke="#e6e6e6" stroke-width="1.2" />
<line x1="275.56" y1="357.5" x2="275.56" y2="462.2" stroke="#e6e6e6" stroke-width="1.2" />
<line x1="233" y1="399.38" x2="339.1" y2="399.38" stroke="#e6e6e6" stroke-width="1.2" />
<line x1="286.05" y1="357.5" x2="286.05" y2="462.2" stroke="#e6e6e6" stroke-width="1.2" />
<line x1="233" y1="409.85" x2="339.1" y2="409.85" stroke="#e6e6e6" stroke-width="1.2" />
<line x1="296.54" y1="357.5" x2="296.54" y2="462.2" stroke="#e6e6e6" stroke-width="1.2" />
<line x1="233" y1="420.32" x2="339.1" y2="420.32" stroke="#e6e6e6" stroke-width="1.2" />
<line x1="307.03" y1="357.5" x2="307.03" y2="462.2" stroke="#e6e6e6" stroke-width="1.2" />
<line x1="233" y1="430.79" x2="339.1" y2="430.79" stroke="#e6e6e6" stroke-width="1.2" />
<line x1="317.52" y1="357.5" x2="317.52" y2="462.2" stroke="#e6e6e6" stroke-width="1.2" />
<line x1="233" y1="441.26" x2="339.1" y2="441.26" stroke="#e6e6e6" stroke-width="1.2" />
<line x1="328.01" y1="357.5" x2="328.01" y2="462.2" stroke="#e6e6e6" stroke-width="1.2" />
<line x1="233" y1="451.73" x2="339.1" y2="451.73" stroke="#e6e6e6" stroke-width="1.2" />
<line x1="338.5" y1="357.5" x2="338.5" y2="462.2" stroke="#e6e6e6" stroke-width="1.2" />
<line x1="233" y1="462.2" x2="339.1" y2="462.2" stroke="#e6e6e6" stroke-width="1.2" />
<rect x="266.05" y="452.6" width="40" height="9" fill="#fff"/>
<text x="286.35" y="461" font-size="9.6" font-weight="bold" text-anchor="middle" fill="#222" font-family="'Liberation Sans', sans-serif" >5.0 mm</text>
<circle cx="286.05" cy="409.85" r="28.8" fill="none" stroke="#111" stroke-width="1.15"/>
<g fill="none" stroke-width="1.25">
<circle stroke="#2222ff" cx="286.05" cy="409.85" r="16.8"/>
<circle stroke="#22dd22" cx="286.05" cy="400.6" r="16.15"/>
<path stroke="#ffa31a" d="M282 437.45 A16.8 16.8 0 1 1 290.1 437.45 A27.9 27.9 0 0 1 282 437.45Z"/>
<circle stroke="#ee1c1c" cx="286.05" cy="399.25" r="16.8"/>
</g>
<line x1="283.85" y1="409.85" x2="288.25" y2="409.85" stroke="#555" stroke-width="0.9" />
<line x1="286.05" y1="407.65" x2="286.05" y2="412.05" stroke="#555" stroke-width="0.9" />
<path d="M301.6 372 L292.7 372 Q291.5 372 289.82 376.5" fill="none" stroke="#666" stroke-width="1.0"/>
<path d="M286.65 380.1 L288.4 374.18 L292.3 377.62Z" fill="#111"/>
<text x="304.2" y="375.4" font-size="9.6" font-weight="bold" text-anchor="start" fill="#111" font-family="'Liberation Sans', sans-serif" >4.25 mm</text>
<line x1="20.6" y1="467.1" x2="116.4" y2="467.1" stroke="#3a3a3a" stroke-width="1.5" />
<path d="M16.4 467.1 L21.4 464.7 L21.4 469.5Z" fill="#111"/>
<path d="M120.6 467.1 L115.6 464.7 L115.6 469.5Z" fill="#111"/>
<line x1="16.1" y1="463.7" x2="16.1" y2="471.3" stroke="#222" stroke-width="1.4" />
<line x1="120.9" y1="463.7" x2="120.9" y2="471.3" stroke="#222" stroke-width="1.4" />
<text x="74" y="478" font-size="9.6" font-weight="bold" text-anchor="middle" fill="#222" font-family="'Liberation Sans', sans-serif" >8.0 mm</text>
<rect x="214.9" y="465.6" width="124.5" height="13.6" fill="#fff" stroke="#111" stroke-width="1.5"/>
<circle cx="222.2" cy="473" r="2.75" fill="none" stroke="#2222ff" stroke-width="1.4"/>
<text x="226.2" y="475.8" font-size="9.3" font-weight="bold" text-anchor="start" fill="#111" font-family="'Liberation Sans', sans-serif" >0°</text>
<circle cx="251.5" cy="473" r="2.75" fill="none" stroke="#22dd22" stroke-width="1.4"/>
<text x="255.3" y="475.8" font-size="9.3" font-weight="bold" text-anchor="start" fill="#111" font-family="'Liberation Sans', sans-serif" >15°</text>
<circle cx="283.7" cy="473" r="2.75" fill="none" stroke="#ee1c1c" stroke-width="1.4"/>
<text x="287.7" y="475.8" font-size="9.3" font-weight="bold" text-anchor="start" fill="#111" font-family="'Liberation Sans', sans-serif" >30°</text>
<circle cx="316.4" cy="473" r="2.75" fill="none" stroke="#ffa31a" stroke-width="1.4"/>
<text x="320.4" y="475.8" font-size="9.3" font-weight="bold" text-anchor="start" fill="#111" font-family="'Liberation Sans', sans-serif" >45°</text>
<text x="388.8" y="254.2" font-size="11" font-weight="bold" text-anchor="start" fill="#000" font-family="'Liberation Sans', sans-serif" >E</text>
<line x1="485.12" y1="248.2" x2="485.12" y2="454.5" stroke="#dcdcdc" stroke-width="1.1" />
<line x1="549.35" y1="248.2" x2="549.35" y2="454.5" stroke="#dcdcdc" stroke-width="1.1" />
<line x1="613.58" y1="248.2" x2="613.58" y2="454.5" stroke="#dcdcdc" stroke-width="1.1" />
<line x1="420.9" y1="433.89" x2="677.8" y2="433.89" stroke="#dcdcdc" stroke-width="1.1" />
<line x1="420.9" y1="413.28" x2="677.8" y2="413.28" stroke="#dcdcdc" stroke-width="1.1" />
<line x1="420.9" y1="392.67" x2="677.8" y2="392.67" stroke="#dcdcdc" stroke-width="1.1" />
<line x1="420.9" y1="372.06" x2="677.8" y2="372.06" stroke="#dcdcdc" stroke-width="1.1" />
<line x1="420.9" y1="351.45" x2="677.8" y2="351.45" stroke="#dcdcdc" stroke-width="1.1" />
<line x1="420.9" y1="330.84" x2="677.8" y2="330.84" stroke="#dcdcdc" stroke-width="1.1" />
<line x1="420.9" y1="310.23" x2="677.8" y2="310.23" stroke="#dcdcdc" stroke-width="1.1" />
<line x1="420.9" y1="289.62" x2="677.8" y2="289.62" stroke="#dcdcdc" stroke-width="1.1" />
<line x1="420.9" y1="269.01" x2="677.8" y2="269.01" stroke="#dcdcdc" stroke-width="1.1" />
<path d="M420.9 248.81 C421.43 248.87 420.92 246.96 424.11 249.22 C427.3 251.47 435.2 257.86 440.03 262.34 C444.87 266.81 448.78 271.56 453.13 276.07 C457.47 280.58 461.75 285.19 466.1 289.39 C470.44 293.6 475.37 297.8 479.19 301.29 C483.01 304.77 485.75 307.44 489.02 310.31 C492.28 313.18 495.51 315.98 498.77 318.5 C502.04 321.03 505.53 323.36 508.6 325.48 C511.67 327.59 514.35 329.4 517.2 331.22 C520.05 333.03 522.48 334.43 525.67 336.34 C528.87 338.25 532.46 340.65 536.4 342.7 C540.33 344.75 545.02 347.03 549.3 348.64 C553.58 350.25 557.8 351.34 562.08 352.33 C566.36 353.32 570.68 354.14 574.98 354.59 C579.28 355.03 584.35 355.1 587.88 355 C591.42 354.89 593.39 354.52 596.17 353.97 C598.94 353.42 601.71 352.6 604.51 351.72 C607.32 350.83 609.78 350.06 612.99 348.64 C616.2 347.22 620.52 345.22 623.77 343.21 C627.02 341.19 629.86 338.75 632.5 336.55 C635.15 334.34 637.18 332.44 639.63 329.99 C642.08 327.53 644.33 325.1 647.2 321.79 C650.08 318.47 654 313.82 656.9 310.1 C659.8 306.38 662.3 302.82 664.6 299.44 C666.9 296.06 669.09 292.2 670.7 289.81 C672.32 287.41 673.2 286.22 674.3 285.09 C675.4 283.96 676.81 283.38 677.31 283.04" fill="none" stroke="#ff40b0" stroke-width="1.7" stroke-linejoin="round" stroke-linecap="round"/>
<path d="M441.44 250.04 C442.09 250.07 443.69 249.97 445.3 250.24 C446.9 250.51 449.11 250.86 451.07 251.68 C453.04 252.5 454.6 253.38 457.11 255.16 C459.61 256.94 462.96 259.77 466.1 262.34 C469.23 264.9 472.66 267.87 475.92 270.54 C479.18 273.2 482.15 275.35 485.68 278.33 C489.21 281.3 493.29 285.19 497.11 288.37 C500.93 291.55 505.61 295.2 508.6 297.39 C511.58 299.58 512.17 299.64 515.02 301.49 C517.86 303.34 522.11 306.24 525.67 308.46 C529.24 310.68 532.46 312.77 536.4 314.82 C540.33 316.87 545.02 319.05 549.3 320.76 C553.58 322.47 557.8 323.9 562.08 325.07 C566.36 326.23 570.68 327.18 574.98 327.73 C579.28 328.28 584.57 328.35 587.88 328.35 C591.2 328.35 592.11 328.21 594.88 327.73 C597.65 327.25 601.47 326.4 604.51 325.48 C607.55 324.55 610.05 323.56 613.11 322.2 C616.17 320.83 620.06 318.95 622.87 317.27 C625.69 315.6 627.44 314.23 630 312.15 C632.56 310.07 635.5 307.47 638.22 304.77 C640.93 302.07 643.59 298.93 646.31 295.96 C649.02 292.98 651.95 289.94 654.52 286.94 C657.1 283.93 659.95 280 661.78 277.92 C663.61 275.83 663.92 274.94 665.5 274.43 C667.09 273.92 669.25 274.64 671.28 274.84 C673.31 275.05 676.63 275.52 677.7 275.66" fill="none" stroke="#f5a561" stroke-width="1.7" stroke-linejoin="round" stroke-linecap="round"/>
<path d="M474.19 251.06 C474.72 251.09 475.9 250.99 477.4 251.27 C478.89 251.54 481.79 252.19 483.17 252.7 C484.55 253.21 483.36 253.01 485.68 254.34 C488 255.67 493.29 258.41 497.11 260.7 C500.93 262.98 505.61 266.06 508.6 268.08 C511.58 270.09 512.17 270.91 515.02 272.79 C517.86 274.67 522.11 277.23 525.67 279.35 C529.24 281.47 532.46 283.48 536.4 285.5 C540.33 287.52 545.02 289.67 549.3 291.45 C553.58 293.22 557.8 294.93 562.08 296.16 C566.36 297.39 570.68 298.21 574.98 298.83 C579.28 299.44 584.57 299.85 587.88 299.85 C591.2 299.85 591.68 299.54 594.88 298.83 C598.08 298.11 603.44 296.71 607.08 295.55 C610.72 294.38 612.89 293.7 616.71 291.86 C620.53 290.01 626.41 286.53 630 284.48 C633.58 282.43 635.5 281.33 638.22 279.56 C640.93 277.78 644.54 275.08 646.31 273.82 C648.07 272.55 646.79 272.07 648.81 271.97 C650.83 271.87 653.62 272.59 658.44 273.2 C663.25 273.82 674.49 275.25 677.7 275.66" fill="none" stroke="#eee27a" stroke-width="1.7" stroke-linejoin="round" stroke-linecap="round"/>
<path d="M508.21 253.93 C509.07 254.03 511.64 254.14 513.35 254.55 C515.06 254.96 516.43 255.6 518.48 256.39 C520.54 257.18 522.69 258.03 525.67 259.26 C528.66 260.49 532.46 262.27 536.4 263.77 C540.33 265.27 545.02 266.95 549.3 268.28 C553.58 269.61 557.8 270.81 562.08 271.76 C566.36 272.72 570.68 273.51 574.98 274.02 C579.28 274.53 584.35 274.77 587.88 274.84 C591.42 274.91 592.97 274.77 596.17 274.43 C599.37 274.09 603.87 273.37 607.08 272.79 C610.29 272.21 612.86 271.59 615.43 270.95 C617.99 270.3 619.6 269.07 622.49 268.89 C625.38 268.72 627.84 269.37 632.76 269.92 C637.68 270.47 644.53 271.22 652.02 272.18 C659.51 273.13 673.42 275.08 677.7 275.66" fill="none" stroke="#4fee4f" stroke-width="1.7" stroke-linejoin="round" stroke-linecap="round"/>
<path d="M420.9 249.22 C426.25 249.28 442.3 249.39 453 249.63 C463.7 249.86 477.61 250.31 485.1 250.65 C492.59 250.99 492.95 251.03 497.94 251.68 C502.93 252.32 508.61 253.69 515.02 254.55 C521.43 255.4 529.61 256.19 536.4 256.8 C543.18 257.42 548.57 257.62 555.72 258.24 C562.87 258.85 573.57 259.94 579.28 260.49 C585 261.04 586.87 261.1 590 261.51 C593.14 261.93 594.18 262.44 598.09 262.95 C602.01 263.46 609.54 264.04 613.5 264.59 C617.46 265.14 618.85 265.68 621.85 266.23 C624.84 266.78 627.73 267.29 631.48 267.87 C635.22 268.45 640.14 269.13 644.32 269.72 C648.49 270.3 652.45 270.71 656.51 271.36 C660.58 272 665.18 272.93 668.71 273.61 C672.24 274.29 676.2 275.15 677.7 275.46" fill="none" stroke="#4ff0f0" stroke-width="1.7" stroke-linejoin="round" stroke-linecap="round"/>
<path d="M420.9 249.52 L421.22 249.53 L421.54 249.53 L421.86 249.53 L422.18 249.54 L422.5 249.54 L422.83 249.55 L423.15 249.55 L423.47 249.56 L423.79 249.56 L424.11 249.56 L424.43 249.57 L424.75 249.57 L425.07 249.58 L425.39 249.58 L425.71 249.58 L426.04 249.59 L426.36 249.59 L426.68 249.6 L427 249.6 L427.32 249.6 L427.64 249.61 L427.96 249.61 L428.28 249.62 L428.6 249.62 L428.92 249.62 L429.25 249.63 L429.57 249.63 L429.89 249.64 L430.21 249.64 L430.53 249.65 L430.85 249.65 L431.17 249.65 L431.49 249.76 L431.81 249.87 L432.13 249.97 L432.46 250.08 L432.78 250.19 L433.1 250.29 L433.42 250.4 L433.74 250.51 L434.06 250.51 L434.38 250.51 L434.7 250.52 L435.02 250.52 L435.34 250.47 L435.67 250.41 L435.99 250.36 L436.31 250.31 L436.63 250.25 L436.95 250.2 L437.27 250.14 L437.59 250.09 L437.91 250.03 L438.23 249.98 L438.55 249.92 L438.88 249.87 L439.2 249.81 L439.52 249.76 L439.84 249.76 L440.16 249.77 L440.48 249.77 L440.8 249.78 L441.12 249.78 L441.44 249.78 L441.76 249.79 L442.09 249.79 L442.41 249.8 L442.73 249.8 L443.05 249.81 L443.37 249.81 L443.69 249.81 L444.01 249.82 L444.33 249.82 L444.65 249.83 L444.97 249.83 L445.3 249.83 L445.62 249.84 L445.94 249.84 L446.26 249.95 L446.58 250.06 L446.9 250.16 L447.22 250.27 L447.54 250.38 L447.86 250.48 L448.19 250.59 L448.51 250.7 L448.83 250.7 L449.15 250.7 L449.47 250.71 L449.79 250.71 L450.11 250.66 L450.43 250.62 L450.75 250.57 L451.07 250.52 L451.39 250.48 L451.72 250.43 L452.04 250.38 L452.36 250.33 L452.68 250.29 L453 250.24 L453.32 250.2 L453.64 250.16 L453.96 250.12 L454.28 250.08 L454.6 250.04 L454.93 249.99 L455.25 250 L455.57 250.01 L455.89 250.02 L456.21 250.04 L456.53 250.05 L456.85 250.06 L457.17 250.07 L457.49 250.08 L457.81 250.09 L458.14 250.1 L458.46 250.11 L458.78 250.12 L459.1 250.13 L459.42 250.14 L459.74 250.15 L460.06 250.16 L460.38 250.17 L460.7 250.18 L461.02 250.19 L461.35 250.2 L461.67 250.21 L461.99 250.22 L462.31 250.23 L462.63 250.24 L462.95 250.25 L463.27 250.26 L463.59 250.27 L463.91 250.28 L464.23 250.29 L464.56 250.3 L464.88 250.31 L465.2 250.32 L465.52 250.33 L465.84 250.34 L466.16 250.35 L466.48 250.36 L466.8 250.37 L467.12 250.38 L467.44 250.5 L467.77 250.61 L468.09 250.72 L468.41 250.83 L468.73 250.95 L469.05 251.06 L469.37 251.17 L469.69 251.29 L470.01 251.3 L470.33 251.31 L470.65 251.32 L470.98 251.33 L471.3 251.29 L471.62 251.24 L471.94 251.2 L472.26 251.16 L472.58 251.12 L472.9 251.08 L473.22 251.04 L473.54 251 L473.86 250.96 L474.19 250.92 L474.51 250.88 L474.83 250.83 L475.15 250.79 L475.47 250.75 L475.79 250.71 L476.11 250.67 L476.43 250.68 L476.75 250.69 L477.07 250.7 L477.4 250.71 L477.72 250.72 L478.04 250.73 L478.36 250.74 L478.68 250.75 L479 250.76 L479.32 250.77 L479.64 250.78 L479.96 250.79 L480.28 250.8 L480.61 250.81 L480.93 250.82 L481.25 250.83 L481.57 250.84 L481.89 250.86 L482.21 250.87 L482.53 250.88 L482.85 250.89 L483.17 250.9 L483.5 250.91 L483.82 250.92 L484.14 250.93 L484.46 250.94 L484.78 250.95 L485.1 250.96 L485.42 250.98 L485.74 251.01 L486.06 251.03 L486.38 251.06 L486.7 251.09 L487.03 251.11 L487.35 251.14 L487.67 251.16 L487.99 251.29 L488.31 251.42 L488.63 251.55 L488.95 251.68 L489.27 251.8 L489.59 251.93 L489.91 252.06 L490.24 252.19 L490.56 252.21 L490.88 252.24 L491.2 252.26 L491.52 252.29 L491.84 252.26 L492.16 252.24 L492.48 252.21 L492.8 252.19 L493.12 252.16 L493.45 252.14 L493.77 252.11 L494.09 252.09 L494.41 252.06 L494.73 252.03 L495.05 252.01 L495.37 251.98 L495.69 251.96 L496.01 251.93 L496.33 251.91 L496.66 251.88 L496.98 251.91 L497.3 251.93 L497.62 251.96 L497.94 251.98 L498.26 252.04 L498.58 252.09 L498.9 252.14 L499.22 252.2 L499.54 252.25 L499.87 252.31 L500.19 252.36 L500.51 252.41 L500.83 252.57 L501.15 252.73 L501.47 252.88 L501.79 253.04 L502.11 253.2 L502.43 253.35 L502.75 253.51 L503.08 253.67 L503.4 253.82 L503.72 253.98 L504.04 254.03 L504.36 254.09 L504.68 254.14 L505 254.19 L505.32 254.19 L505.64 254.19 L505.96 254.19 L506.29 254.18 L506.61 254.18 L506.93 254.18 L507.25 254.17 L507.57 254.17 L507.89 254.17 L508.21 254.16 L508.53 254.16 L508.85 254.16 L509.17 254.16 L509.5 254.15 L509.82 254.15 L510.14 254.15 L510.46 254.14 L510.78 254.14 L511.1 254.19 L511.42 254.25 L511.74 254.3 L512.06 254.36 L512.38 254.41 L512.71 254.46 L513.03 254.52 L513.35 254.57 L513.67 254.63 L513.99 254.68 L514.31 254.73 L514.63 254.79 L514.95 254.84 L515.27 254.88 L515.6 254.91 L515.92 254.95 L516.24 255.11 L516.56 255.27 L516.88 255.43 L517.2 255.6 L517.52 255.76 L517.84 255.92 L518.16 256.08 L518.48 256.24 L518.8 256.28 L519.13 256.31 L519.45 256.34 L519.77 256.38 L520.09 256.36 L520.41 256.34 L520.73 256.33 L521.05 256.31 L521.37 256.29 L521.69 256.27 L522.01 256.26 L522.34 256.24 L522.66 256.22 L522.98 256.2 L523.3 256.19 L523.62 256.17 L523.94 256.15 L524.26 256.14 L524.58 256.12 L524.9 256.1 L525.23 256.08 L525.55 256.07 L525.87 256.05 L526.19 256.03 L526.51 256.06 L526.83 256.1 L527.15 256.13 L527.47 256.17 L527.79 256.2 L528.11 256.23 L528.43 256.27 L528.76 256.3 L529.08 256.34 L529.4 256.37 L529.72 256.4 L530.04 256.44 L530.36 256.56 L530.68 256.68 L531 256.79 L531.32 256.91 L531.64 257.03 L531.97 257.15 L532.29 257.27 L532.61 257.39 L532.93 257.51 L533.25 257.63 L533.57 257.75 L533.89 257.87 L534.21 257.9 L534.53 257.94 L534.86 257.97 L535.18 258 L535.5 258.04 L535.82 258.07 L536.14 258.11 L536.46 258.14 L536.78 258.16 L537.1 258.18 L537.42 258.21 L537.74 258.23 L538.06 258.17 L538.39 258.11 L538.71 258.05 L539.03 257.99 L539.35 257.92 L539.67 257.86 L539.99 257.8 L540.31 257.74 L540.63 257.68 L540.95 257.62 L541.27 257.56 L541.6 257.49 L541.92 257.52 L542.24 257.54 L542.56 257.57 L542.88 257.59 L543.2 257.61 L543.52 257.64 L543.84 257.66 L544.16 257.68 L544.49 257.71 L544.81 257.73 L545.13 257.76 L545.45 257.78 L545.77 257.8 L546.09 257.83 L546.41 257.85 L546.73 257.88 L547.05 257.9 L547.37 257.92 L547.69 257.95 L548.02 257.97 L548.34 257.99 L548.66 258.02 L548.98 258.04 L549.3 258.07 L549.62 258.09 L549.94 258.11 L550.26 258.14 L550.58 258.16 L550.9 258.18 L551.23 258.21 L551.55 258.23 L551.87 258.26 L552.19 258.28 L552.51 258.3 L552.83 258.45 L553.15 258.6 L553.47 258.74 L553.79 258.89 L554.12 259.04 L554.44 259.19 L554.76 259.33 L555.08 259.48 L555.4 259.63 L555.72 259.77 L556.04 259.8 L556.36 259.83 L556.68 259.86 L557 259.9 L557.33 259.93 L557.65 259.96 L557.97 259.94 L558.29 259.92 L558.61 259.9 L558.93 259.87 L559.25 259.85 L559.57 259.83 L559.89 259.81 L560.21 259.79 L560.53 259.77 L560.86 259.75 L561.18 259.73 L561.5 259.71 L561.82 259.69 L562.14 259.67 L562.46 259.65 L562.78 259.63 L563.1 259.61 L563.42 259.59 L563.75 259.57 L564.07 259.55 L564.39 259.53 L564.71 259.51 L565.03 259.48 L565.35 259.46 L565.67 259.49 L565.99 259.53 L566.31 259.56 L566.63 259.59 L566.95 259.62 L567.28 259.65 L567.6 259.68 L567.92 259.71 L568.24 259.74 L568.56 259.77 L568.88 259.88 L569.2 260 L569.52 260.11 L569.84 260.22 L570.16 260.33 L570.49 260.45 L570.81 260.56 L571.13 260.67 L571.45 260.79 L571.77 260.9 L572.09 260.93 L572.41 260.96 L572.73 260.99 L573.05 261.02 L573.38 261.05 L573.7 261.08 L574.02 261.11 L574.34 261.14 L574.66 261.18 L574.98 261.21 L575.3 261.17 L575.62 261.13 L575.94 261.09 L576.26 261.06 L576.59 261.02 L576.91 260.98 L577.23 260.94 L577.55 260.9 L577.87 260.87 L578.19 260.83 L578.51 260.79 L578.83 260.75 L579.15 260.79 L579.47 260.82 L579.79 260.85 L580.12 260.88 L580.44 260.91 L580.76 260.94 L581.08 260.97 L581.4 261 L581.72 261.03 L582.04 261.06 L582.36 261.09 L582.68 261.12 L583 261.15 L583.33 261.18 L583.65 261.21 L583.97 261.25 L584.29 261.28 L584.61 261.31 L584.93 261.34 L585.25 261.37 L585.57 261.4 L585.89 261.43 L586.21 261.46 L586.54 261.49 L586.86 261.52 L587.18 261.55 L587.5 261.58 L587.82 261.61 L588.14 261.64 L588.46 261.68 L588.78 261.71 L589.1 261.74 L589.42 261.77 L589.75 261.8 L590.07 261.83 L590.39 261.89 L590.71 261.95 L591.03 262 L591.35 262.06 L591.67 262.12 L591.99 262.18 L592.31 262.23 L592.63 262.56 L592.96 262.88 L593.28 263.2 L593.6 263.53 L593.92 263.85 L594.24 264.17 L594.56 264.5 L594.88 264.82 L595.2 265.14 L595.52 265.47 L595.85 265.52 L596.17 265.58 L596.49 265.64 L596.81 265.69 L597.13 265.75 L597.45 265.81 L597.77 265.87 L598.09 265.92 L598.41 265.96 L598.73 265.99 L599.05 266.02 L599.38 266.06 L599.7 266.09 L600.02 266.13 L600.34 266.16 L600.66 266.2 L600.98 266.23 L601.3 266.26 L601.62 266.3 L601.94 266.33 L602.26 266.37 L602.59 266.4 L602.91 266.21 L603.23 266.02 L603.55 265.84 L603.87 265.65 L604.19 265.46 L604.51 265.27 L604.83 265.09 L605.15 264.9 L605.47 264.71 L605.8 264.52 L606.12 264.33 L606.44 264.15 L606.76 264.18 L607.08 264.21 L607.4 264.25 L607.72 264.28 L608.04 264.32 L608.36 264.35 L608.68 264.38 L609.01 264.42 L609.33 264.45 L609.65 264.49 L609.97 264.52 L610.29 264.56 L610.61 264.59 L610.93 264.62 L611.25 264.66 L611.57 264.69 L611.89 264.73 L612.22 264.76 L612.54 264.79 L612.86 264.83 L613.18 264.86 L613.5 264.9 L613.82 264.96 L614.14 265.02 L614.46 265.09 L614.78 265.15 L615.11 265.21 L615.43 265.28 L615.75 265.34 L616.07 265.4 L616.39 265.65 L616.71 265.9 L617.03 266.16 L617.35 266.41 L617.67 266.66 L617.99 266.91 L618.31 267.16 L618.64 267.41 L618.96 267.66 L619.28 267.91 L619.6 268.16 L619.92 268.41 L620.24 268.48 L620.56 268.54 L620.88 268.44 L621.2 268.34 L621.52 268.25 L621.85 268.15 L622.17 268.04 L622.49 267.94 L622.81 267.83 L623.13 267.72 L623.45 267.62 L623.77 267.51 L624.09 267.4 L624.41 267.3 L624.74 267.19 L625.06 267.08 L625.38 267.14 L625.7 267.19 L626.02 267.25 L626.34 267.3 L626.66 267.36 L626.98 267.41 L627.3 267.47 L627.62 267.52 L627.94 267.58 L628.27 267.63 L628.59 267.89 L628.91 268.15 L629.23 268.41 L629.55 268.67 L629.87 268.93 L630.19 269.19 L630.51 269.45 L630.83 269.71 L631.15 269.97 L631.48 270.23 L631.8 270.27 L632.12 270.32 L632.44 270.2 L632.76 270.07 L633.08 269.95 L633.4 269.82 L633.72 269.7 L634.04 269.57 L634.37 269.45 L634.69 269.32 L635.01 269.2 L635.33 269.07 L635.65 268.95 L635.97 268.82 L636.29 268.87 L636.61 268.92 L636.93 268.96 L637.25 269.01 L637.58 269.05 L637.9 269.1 L638.22 269.15 L638.54 269.19 L638.86 269.46 L639.18 269.74 L639.5 270.01 L639.82 270.28 L640.14 270.55 L640.46 270.82 L640.78 271.09 L641.11 271.37 L641.43 271.64 L641.75 271.91 L642.07 271.95 L642.39 272 L642.71 271.82 L643.03 271.64 L643.35 271.46 L643.67 271.28 L644 271.1 L644.32 270.92 L644.64 270.74 L644.96 270.56 L645.28 270.38 L645.6 270.2 L645.92 270.24 L646.24 270.28 L646.56 270.32 L646.88 270.37 L647.2 270.67 L647.53 270.97 L647.85 271.27 L648.17 271.57 L648.49 271.86 L648.81 272.16 L649.13 272.46 L649.45 272.76 L649.77 272.81 L650.09 272.85 L650.41 272.69 L650.74 272.53 L651.06 272.36 L651.38 272.2 L651.7 272.04 L652.02 271.88 L652.34 271.72 L652.66 271.55 L652.98 271.39 L653.3 271.23 L653.62 271.27 L653.95 271.32 L654.27 271.36 L654.59 271.4 L654.91 271.7 L655.23 272 L655.55 272.3 L655.87 272.6 L656.19 272.9 L656.51 273.2 L656.84 273.52 L657.16 273.83 L657.48 273.89 L657.8 273.95 L658.12 273.84 L658.44 273.73 L658.76 273.62 L659.08 273.5 L659.4 273.39 L659.72 273.28 L660.04 273.17 L660.37 273.06 L660.69 272.95 L661.01 272.83 L661.33 272.72 L661.65 272.61 L661.97 272.67 L662.29 272.73 L662.61 272.79 L662.93 272.85 L663.25 272.91 L663.58 272.97 L663.9 273.2 L664.22 273.43 L664.54 273.66 L664.86 273.89 L665.18 274.12 L665.5 274.35 L665.82 274.41 L666.14 274.47 L666.46 274.44 L666.79 274.42 L667.11 274.39 L667.43 274.36 L667.75 274.34 L668.07 274.31 L668.39 274.29 L668.71 274.26 L669.03 274.24 L669.35 274.22 L669.67 274.2 L670 274.18 L670.32 274.25 L670.64 274.31 L670.96 274.38 L671.28 274.44 L671.6 274.51 L671.92 274.58 L672.24 274.64 L672.56 274.71 L672.88 274.77 L673.21 274.84 L673.53 274.91 L673.85 274.97 L674.17 275.04 L674.49 275.1 L674.81 275.17 L675.13 275.24 L675.45 275.3 L675.77 275.37 L676.1 275.43 L676.42 275.5 L676.74 275.56 L677.06 275.63 L677.38 275.7 L677.7 275.76" fill="none" stroke="#a64dff" stroke-width="1.7" stroke-linejoin="round"/>
<rect x="420.9" y="248.2" width="256.9" height="206.3" fill="none" stroke="#444" stroke-width="1.4"/>
<line x1="420.9" y1="248.2" x2="420.9" y2="454.5" stroke="#666" stroke-width="1.7"/>
<line x1="416.7" y1="454.5" x2="420.9" y2="454.5" stroke="#555" stroke-width="1.2" />
<line x1="677.8" y1="454.5" x2="674.2" y2="454.5" stroke="#555" stroke-width="1.2" />
<text x="414.4" y="458" font-size="9.9" font-weight="normal" text-anchor="end" fill="#333" font-family="'Liberation Sans', sans-serif" >0.0</text>
<line x1="416.7" y1="433.89" x2="420.9" y2="433.89" stroke="#555" stroke-width="1.2" />
<line x1="677.8" y1="433.89" x2="674.2" y2="433.89" stroke="#555" stroke-width="1.2" />
<text x="414.4" y="437.39" font-size="9.9" font-weight="normal" text-anchor="end" fill="#333" font-family="'Liberation Sans', sans-serif" >0.1</text>
<line x1="416.7" y1="413.28" x2="420.9" y2="413.28" stroke="#555" stroke-width="1.2" />
<line x1="677.8" y1="413.28" x2="674.2" y2="413.28" stroke="#555" stroke-width="1.2" />
<text x="414.4" y="416.78" font-size="9.9" font-weight="normal" text-anchor="end" fill="#333" font-family="'Liberation Sans', sans-serif" >0.2</text>
<line x1="416.7" y1="392.67" x2="420.9" y2="392.67" stroke="#555" stroke-width="1.2" />
<line x1="677.8" y1="392.67" x2="674.2" y2="392.67" stroke="#555" stroke-width="1.2" />
<text x="414.4" y="396.17" font-size="9.9" font-weight="normal" text-anchor="end" fill="#333" font-family="'Liberation Sans', sans-serif" >0.3</text>
<line x1="416.7" y1="372.06" x2="420.9" y2="372.06" stroke="#555" stroke-width="1.2" />
<line x1="677.8" y1="372.06" x2="674.2" y2="372.06" stroke="#555" stroke-width="1.2" />
<text x="414.4" y="375.56" font-size="9.9" font-weight="normal" text-anchor="end" fill="#333" font-family="'Liberation Sans', sans-serif" >0.4</text>
<line x1="416.7" y1="351.45" x2="420.9" y2="351.45" stroke="#555" stroke-width="1.2" />
<line x1="677.8" y1="351.45" x2="674.2" y2="351.45" stroke="#555" stroke-width="1.2" />
<text x="414.4" y="354.95" font-size="9.9" font-weight="normal" text-anchor="end" fill="#333" font-family="'Liberation Sans', sans-serif" >0.5</text>
<line x1="416.7" y1="330.84" x2="420.9" y2="330.84" stroke="#555" stroke-width="1.2" />
<line x1="677.8" y1="330.84" x2="674.2" y2="330.84" stroke="#555" stroke-width="1.2" />
<text x="414.4" y="334.34" font-size="9.9" font-weight="normal" text-anchor="end" fill="#333" font-family="'Liberation Sans', sans-serif" >0.6</text>
<line x1="416.7" y1="310.23" x2="420.9" y2="310.23" stroke="#555" stroke-width="1.2" />
<line x1="677.8" y1="310.23" x2="674.2" y2="310.23" stroke="#555" stroke-width="1.2" />
<text x="414.4" y="313.73" font-size="9.9" font-weight="normal" text-anchor="end" fill="#333" font-family="'Liberation Sans', sans-serif" >0.7</text>
<line x1="416.7" y1="289.62" x2="420.9" y2="289.62" stroke="#555" stroke-width="1.2" />
<line x1="677.8" y1="289.62" x2="674.2" y2="289.62" stroke="#555" stroke-width="1.2" />
<text x="414.4" y="293.12" font-size="9.9" font-weight="normal" text-anchor="end" fill="#333" font-family="'Liberation Sans', sans-serif" >0.8</text>
<line x1="416.7" y1="269.01" x2="420.9" y2="269.01" stroke="#555" stroke-width="1.2" />
<line x1="677.8" y1="269.01" x2="674.2" y2="269.01" stroke="#555" stroke-width="1.2" />
<text x="414.4" y="272.51" font-size="9.9" font-weight="normal" text-anchor="end" fill="#333" font-family="'Liberation Sans', sans-serif" >0.9</text>
<line x1="416.7" y1="248.4" x2="420.9" y2="248.4" stroke="#555" stroke-width="1.2" />
<line x1="677.8" y1="248.4" x2="674.2" y2="248.4" stroke="#555" stroke-width="1.2" />
<text x="414.4" y="251.9" font-size="9.9" font-weight="normal" text-anchor="end" fill="#333" font-family="'Liberation Sans', sans-serif" >1.0</text>
<line x1="420.9" y1="454.5" x2="420.9" y2="458.7" stroke="#444" stroke-width="1.1" />
<line x1="420.9" y1="248.2" x2="420.9" y2="252" stroke="#444" stroke-width="1.1" />
<text x="421.1" y="468.9" font-size="9.9" font-weight="normal" text-anchor="middle" fill="#333" font-family="'Liberation Sans', sans-serif" >0</text>
<line x1="453.01" y1="454.5" x2="453.01" y2="456.8" stroke="#444" stroke-width="1.1" />
<line x1="453.01" y1="248.2" x2="453.01" y2="250.4" stroke="#444" stroke-width="1.1" />
<line x1="485.12" y1="454.5" x2="485.12" y2="458.7" stroke="#444" stroke-width="1.1" />
<line x1="485.12" y1="248.2" x2="485.12" y2="252" stroke="#444" stroke-width="1.1" />
<text x="485.32" y="468.9" font-size="9.9" font-weight="normal" text-anchor="middle" fill="#333" font-family="'Liberation Sans', sans-serif" >10</text>
<line x1="517.24" y1="454.5" x2="517.24" y2="456.8" stroke="#444" stroke-width="1.1" />
<line x1="517.24" y1="248.2" x2="517.24" y2="250.4" stroke="#444" stroke-width="1.1" />
<line x1="549.35" y1="454.5" x2="549.35" y2="458.7" stroke="#444" stroke-width="1.1" />
<line x1="549.35" y1="248.2" x2="549.35" y2="252" stroke="#444" stroke-width="1.1" />
<text x="549.55" y="468.9" font-size="9.9" font-weight="normal" text-anchor="middle" fill="#333" font-family="'Liberation Sans', sans-serif" >20</text>
<line x1="581.46" y1="454.5" x2="581.46" y2="456.8" stroke="#444" stroke-width="1.1" />
<line x1="581.46" y1="248.2" x2="581.46" y2="250.4" stroke="#444" stroke-width="1.1" />
<line x1="613.58" y1="454.5" x2="613.58" y2="458.7" stroke="#444" stroke-width="1.1" />
<line x1="613.58" y1="248.2" x2="613.58" y2="252" stroke="#444" stroke-width="1.1" />
<text x="613.78" y="468.9" font-size="9.9" font-weight="normal" text-anchor="middle" fill="#333" font-family="'Liberation Sans', sans-serif" >30</text>
<line x1="645.69" y1="454.5" x2="645.69" y2="456.8" stroke="#444" stroke-width="1.1" />
<line x1="645.69" y1="248.2" x2="645.69" y2="250.4" stroke="#444" stroke-width="1.1" />
<line x1="677.8" y1="454.5" x2="677.8" y2="458.7" stroke="#444" stroke-width="1.1" />
<line x1="677.8" y1="248.2" x2="677.8" y2="252" stroke="#444" stroke-width="1.1" />
<text x="678" y="468.9" font-size="9.9" font-weight="normal" text-anchor="middle" fill="#333" font-family="'Liberation Sans', sans-serif" >40</text>
<text x="549.7" y="485.4" font-size="11" font-weight="normal" text-anchor="middle" fill="#222" font-family="'Liberation Sans', sans-serif" >Field of view (°)</text>
<text transform="translate(398.3 351) rotate(-90)" x="0" y="0" text-anchor="middle" font-size="10.8" fill="#222" font-family="'Liberation Sans', sans-serif">Relative illumination</text>
<rect x="423.3" y="369.3" width="67.8" height="82.9" rx="1.5" fill="#fff" stroke="#bbb" stroke-width="1"/>
<line x1="424.9" y1="377.4" x2="450.3" y2="377.4" stroke="#ff40b0" stroke-width="1.8" />
<text x="452.6" y="381.4" font-size="11.1" font-weight="normal" text-anchor="start" fill="#222" font-family="'Liberation Sans', sans-serif" >2.5 mm</text>
<line x1="424.9" y1="390.85" x2="450.3" y2="390.85" stroke="#f5a561" stroke-width="1.8" />
<text x="452.6" y="394.85" font-size="11.1" font-weight="normal" text-anchor="start" fill="#222" font-family="'Liberation Sans', sans-serif" >3.0 mm</text>
<line x1="424.9" y1="404.3" x2="450.3" y2="404.3" stroke="#eee27a" stroke-width="1.8" />
<text x="452.6" y="408.3" font-size="11.1" font-weight="normal" text-anchor="start" fill="#222" font-family="'Liberation Sans', sans-serif" >3.5 mm</text>
<line x1="424.9" y1="417.75" x2="450.3" y2="417.75" stroke="#4fee4f" stroke-width="1.8" />
<text x="452.6" y="421.75" font-size="11.1" font-weight="normal" text-anchor="start" fill="#222" font-family="'Liberation Sans', sans-serif" >4.0 mm</text>
<line x1="424.9" y1="431.2" x2="450.3" y2="431.2" stroke="#4ff0f0" stroke-width="1.8" />
<text x="452.6" y="435.2" font-size="11.1" font-weight="normal" text-anchor="start" fill="#222" font-family="'Liberation Sans', sans-serif" >4.5 mm</text>
<line x1="424.9" y1="444.65" x2="450.3" y2="444.65" stroke="#a64dff" stroke-width="1.8" />
<text x="452.6" y="448.65" font-size="11.1" font-weight="normal" text-anchor="start" fill="#222" font-family="'Liberation Sans', sans-serif" >5.0 mm</text>
</svg>
</body></html>
